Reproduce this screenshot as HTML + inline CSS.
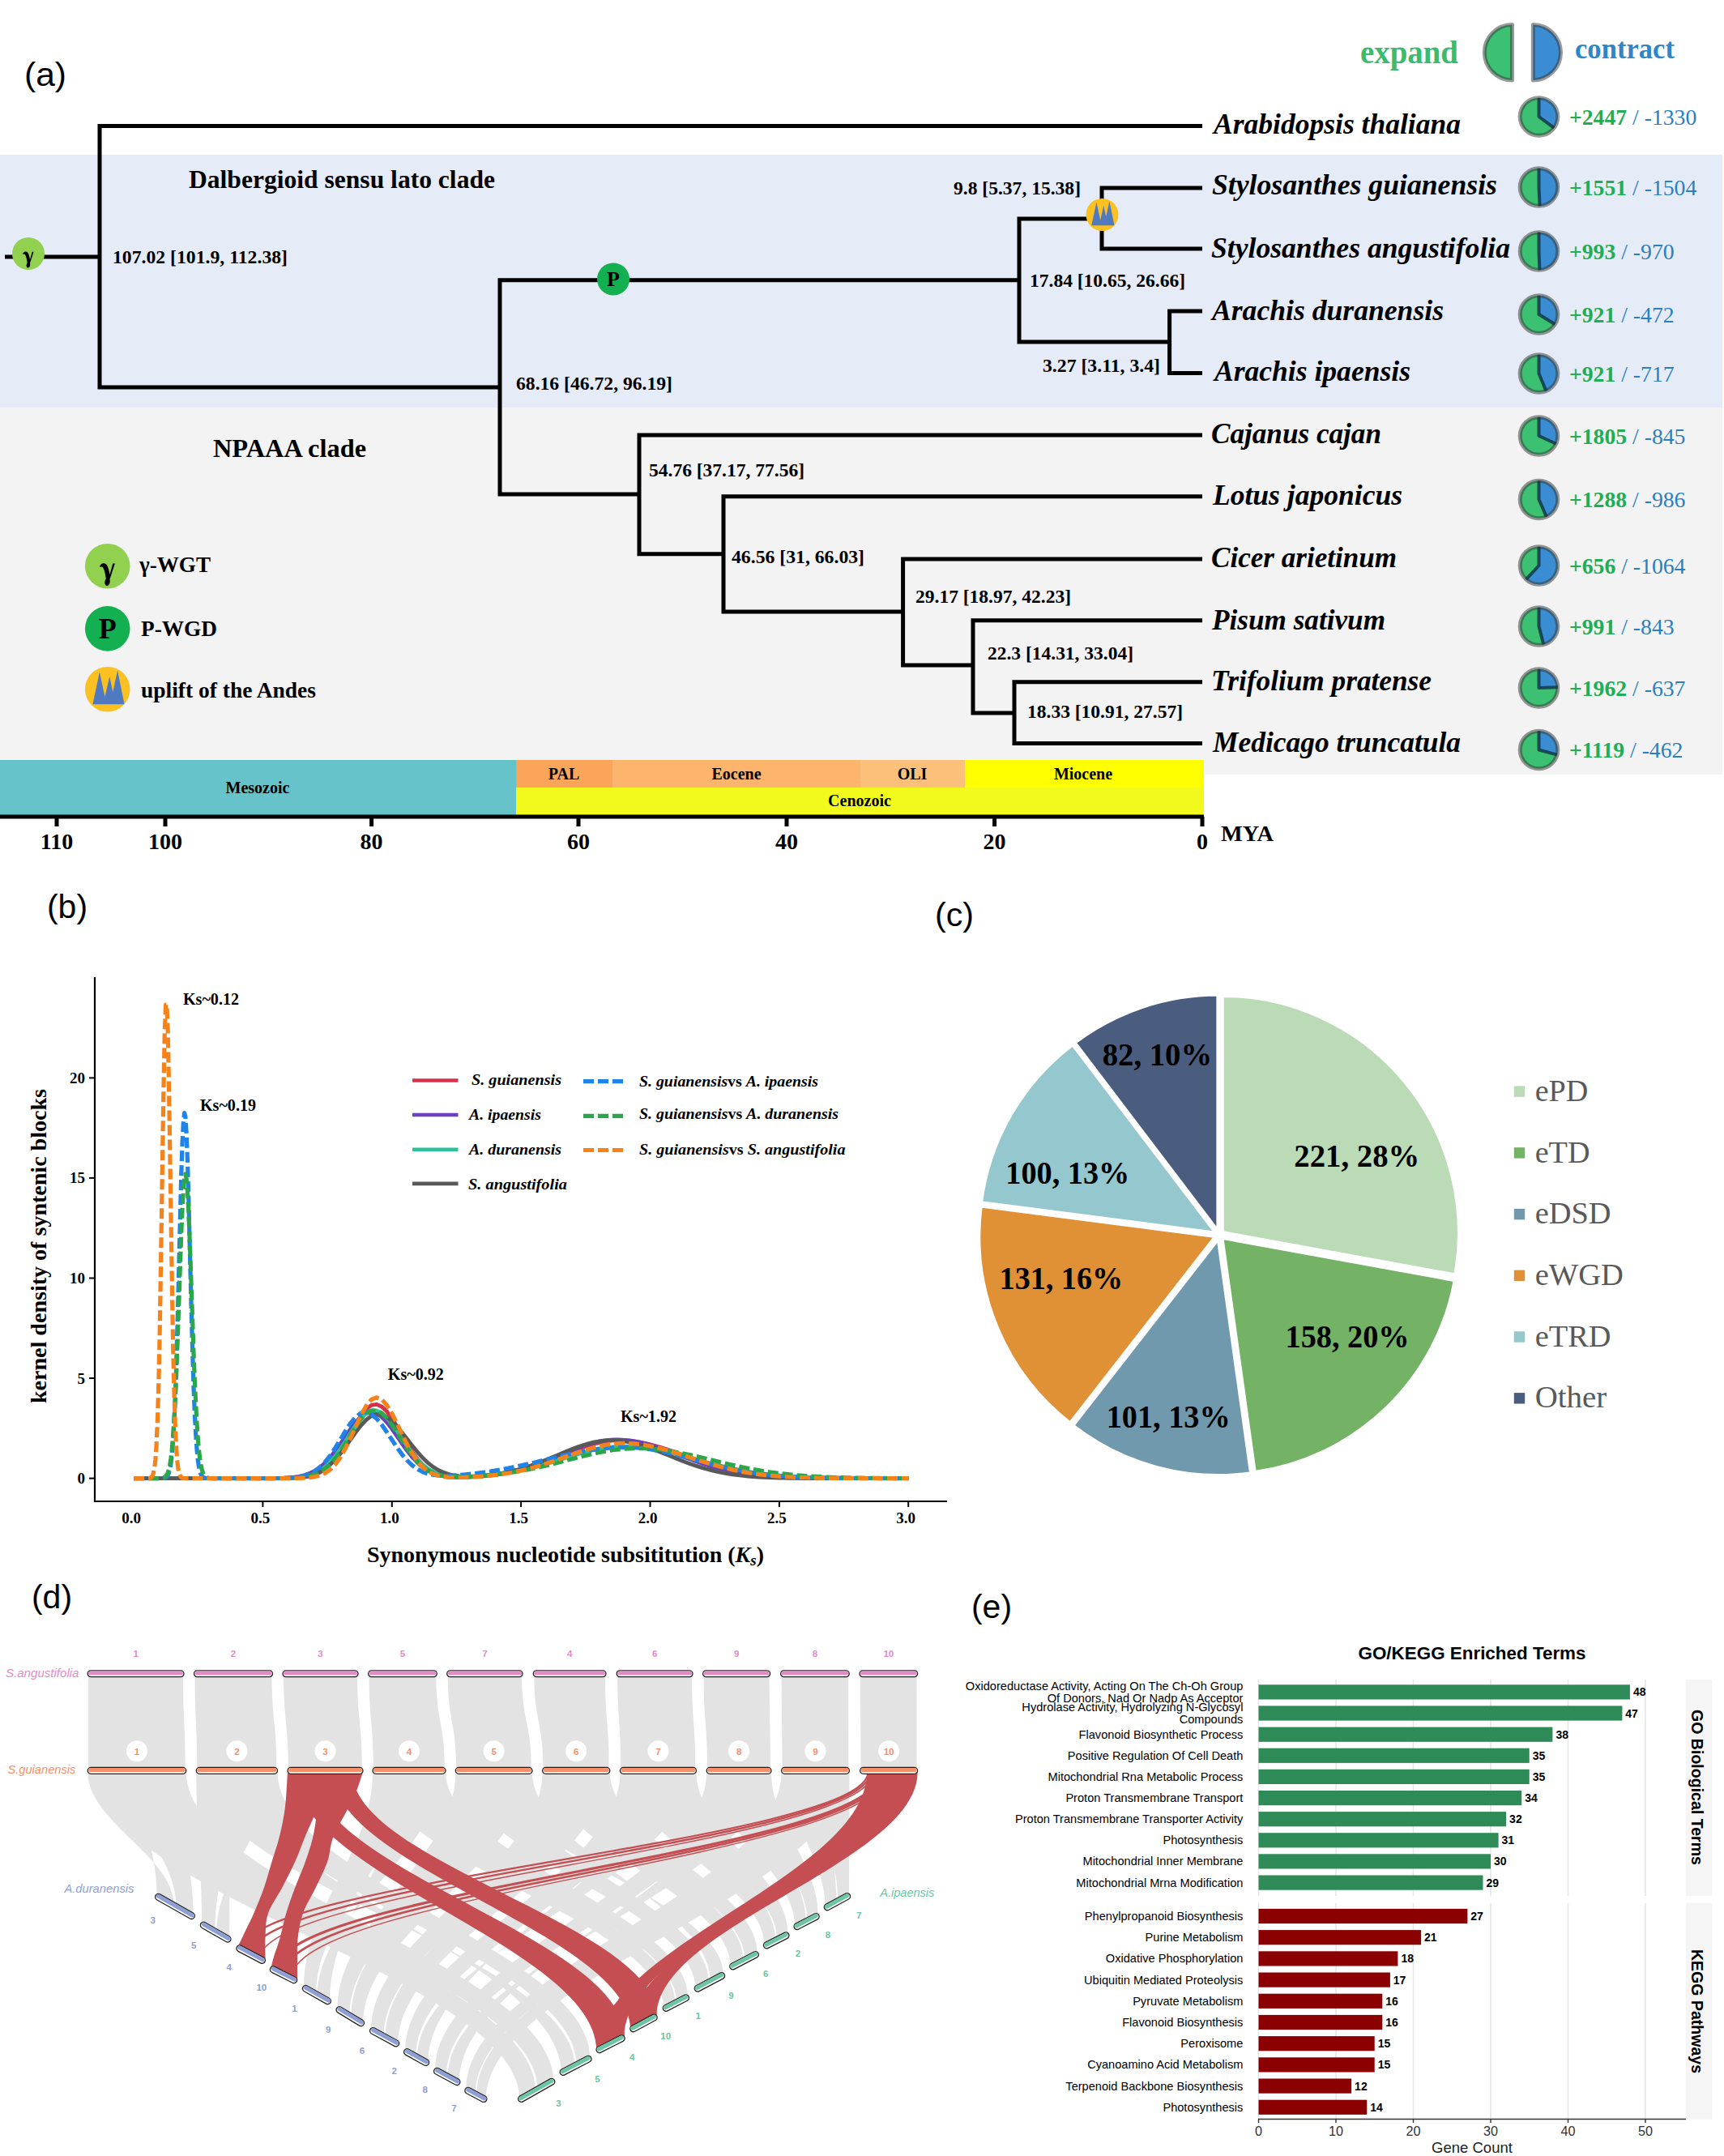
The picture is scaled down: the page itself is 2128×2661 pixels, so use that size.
<!DOCTYPE html>
<html><head><meta charset="utf-8"><title>Figure</title>
<style>html,body{margin:0;padding:0;background:#fff;}svg{display:block;}</style></head>
<body><svg width="2128" height="2661" viewBox="0 0 2128 2661">
<rect width="2128" height="2661" fill="#ffffff"/>
<rect x="0" y="191" width="2126" height="313" fill="#e6ecf7"/>
<rect x="0" y="503" width="2126" height="453" fill="#f3f3f3"/>
<rect x="0" y="938" width="1486" height="70" fill="#ffffff"/>
<text x="30" y="106" font-family="Liberation Sans" font-size="41" fill="#000" textLength="52" lengthAdjust="spacingAndGlyphs">(a)</text>
<path d="M6 317H123M123 153.0V480.5M123 155.5H1484M123 478H617M617 343.2V612.5M617 345.7H1258M617 610H789M1258 267.5V424.5M1258 270H1360M1258 422H1443.6M1360 229.5V309.5M1360 232H1484M1360 307H1484M1443.6 381.5V463.0M1443.6 384H1484M1443.6 460.5H1484M789 534.5V686.2M789 537H1484M789 683.7H893M893 610.2V757.5M893 612.7H1484M893 755H1114.6M1114.6 687.5V823.5M1114.6 690H1484M1114.6 821H1201M1201 763.3V882.5M1201 765.8H1484M1201 880H1252M1252 839.2V920.1M1252 841.7H1484M1252 917.6H1484" stroke="#000" stroke-width="5" fill="none"/>
<text x="139" y="325" font-family="Liberation Serif" font-weight="bold" font-size="23" text-anchor="start" textLength="216" lengthAdjust="spacingAndGlyphs">107.02 [101.9, 112.38]</text>
<text x="637" y="481" font-family="Liberation Serif" font-weight="bold" font-size="23" text-anchor="start" textLength="193" lengthAdjust="spacingAndGlyphs">68.16 [46.72, 96.19]</text>
<text x="1177" y="240" font-family="Liberation Serif" font-weight="bold" font-size="23" text-anchor="start" textLength="157" lengthAdjust="spacingAndGlyphs">9.8 [5.37, 15.38]</text>
<text x="1271" y="354" font-family="Liberation Serif" font-weight="bold" font-size="23" text-anchor="start" textLength="192" lengthAdjust="spacingAndGlyphs">17.84 [10.65, 26.66]</text>
<text x="1287" y="459" font-family="Liberation Serif" font-weight="bold" font-size="23" text-anchor="start" textLength="145" lengthAdjust="spacingAndGlyphs">3.27 [3.11, 3.4]</text>
<text x="801" y="588" font-family="Liberation Serif" font-weight="bold" font-size="23" text-anchor="start" textLength="192" lengthAdjust="spacingAndGlyphs">54.76 [37.17, 77.56]</text>
<text x="903" y="695" font-family="Liberation Serif" font-weight="bold" font-size="23" text-anchor="start" textLength="164" lengthAdjust="spacingAndGlyphs">46.56 [31, 66.03]</text>
<text x="1130" y="744" font-family="Liberation Serif" font-weight="bold" font-size="23" text-anchor="start" textLength="192" lengthAdjust="spacingAndGlyphs">29.17 [18.97, 42.23]</text>
<text x="1219" y="814" font-family="Liberation Serif" font-weight="bold" font-size="23" text-anchor="start" textLength="180" lengthAdjust="spacingAndGlyphs">22.3 [14.31, 33.04]</text>
<text x="1268" y="886" font-family="Liberation Serif" font-weight="bold" font-size="23" text-anchor="start" textLength="192" lengthAdjust="spacingAndGlyphs">18.33 [10.91, 27.57]</text>
<text x="233" y="232" font-family="Liberation Serif" font-weight="bold" font-size="31" textLength="378" lengthAdjust="spacingAndGlyphs">Dalbergioid sensu lato clade</text>
<text x="263" y="564" font-family="Liberation Serif" font-weight="bold" font-size="31" textLength="189" lengthAdjust="spacingAndGlyphs">NPAAA clade</text>
<circle cx="35" cy="313" r="20" fill="#92d050"/>
<path d="M283,432C290,395 330,375 358,405C375,425 385,470 392,510L425,392L447,392L392,560C398,590 392,625 362,630C335,628 332,585 352,555C345,500 330,435 312,428C300,424 292,430 283,432Z" transform="translate(35,313) scale(0.0833) translate(-368,-420)" fill="#000"/>
<circle cx="757" cy="344.5" r="20" fill="#12b050"/>
<text x="757" y="353.47" font-family="Liberation Serif" font-weight="bold" font-size="26" text-anchor="middle">P</text>
<circle cx="1360.5" cy="265" r="20" fill="#fbc021"/>
<polygon points="1347.3,278.3 1353.4,249.6 1358.2,271.7 1362.3,253.8 1365.2,267.5 1369.4,248.3 1375.5,278.3" fill="#4f7ac0"/>
<circle cx="132.7" cy="698.7" r="27.8" fill="#92d050"/>
<path d="M283,432C290,395 330,375 358,405C375,425 385,470 392,510L425,392L447,392L392,560C398,590 392,625 362,630C335,628 332,585 352,555C345,500 330,435 312,428C300,424 292,430 283,432Z" transform="translate(132.7,698.7) scale(0.1158) translate(-368,-420)" fill="#000"/>
<circle cx="132.7" cy="775.9" r="27.8" fill="#12b050"/>
<text x="132.7" y="788.3199999999999" font-family="Liberation Serif" font-weight="bold" font-size="36" text-anchor="middle">P</text>
<circle cx="132.7" cy="850.7" r="27.8" fill="#fbc021"/>
<polygon points="114.4,869.2 122.9,829.3 129.4,860.0 135.3,835.1 139.3,854.2 145.1,827.5 153.5,869.2" fill="#4f7ac0"/>
<text x="172" y="706" font-family="Liberation Serif" font-weight="bold" font-size="27" textLength="88" lengthAdjust="spacingAndGlyphs">γ-WGT</text>
<text x="174" y="785" font-family="Liberation Serif" font-weight="bold" font-size="27" textLength="94" lengthAdjust="spacingAndGlyphs">P-WGD</text>
<text x="174" y="861" font-family="Liberation Serif" font-weight="bold" font-size="27" textLength="216" lengthAdjust="spacingAndGlyphs">uplift of the Andes</text>
<text x="1498" y="164.6" font-family="Liberation Serif" font-weight="bold" font-style="italic" font-size="36" textLength="305" lengthAdjust="spacingAndGlyphs">Arabidopsis thaliana</text>
<text x="1496" y="240" font-family="Liberation Serif" font-weight="bold" font-style="italic" font-size="36" textLength="352" lengthAdjust="spacingAndGlyphs">Stylosanthes guianensis</text>
<text x="1495" y="318" font-family="Liberation Serif" font-weight="bold" font-style="italic" font-size="36" textLength="369" lengthAdjust="spacingAndGlyphs">Stylosanthes angustifolia</text>
<text x="1496" y="395" font-family="Liberation Serif" font-weight="bold" font-style="italic" font-size="36" textLength="286" lengthAdjust="spacingAndGlyphs">Arachis duranensis</text>
<text x="1499" y="470" font-family="Liberation Serif" font-weight="bold" font-style="italic" font-size="36" textLength="242" lengthAdjust="spacingAndGlyphs">Arachis ipaensis</text>
<text x="1495" y="547" font-family="Liberation Serif" font-weight="bold" font-style="italic" font-size="36" textLength="210" lengthAdjust="spacingAndGlyphs">Cajanus cajan</text>
<text x="1497" y="623" font-family="Liberation Serif" font-weight="bold" font-style="italic" font-size="36" textLength="234" lengthAdjust="spacingAndGlyphs">Lotus japonicus</text>
<text x="1495" y="700" font-family="Liberation Serif" font-weight="bold" font-style="italic" font-size="36" textLength="229" lengthAdjust="spacingAndGlyphs">Cicer arietinum</text>
<text x="1496" y="777" font-family="Liberation Serif" font-weight="bold" font-style="italic" font-size="36" textLength="214" lengthAdjust="spacingAndGlyphs">Pisum sativum</text>
<text x="1495" y="852" font-family="Liberation Serif" font-weight="bold" font-style="italic" font-size="36" textLength="272" lengthAdjust="spacingAndGlyphs">Trifolium pratense</text>
<text x="1497" y="928" font-family="Liberation Serif" font-weight="bold" font-style="italic" font-size="36" textLength="306" lengthAdjust="spacingAndGlyphs">Medicago truncatula</text>
<circle cx="1899.5" cy="144" r="23.3" fill="#3cc172"/>
<path d="M1899.5 144L1899.5 120.7A23.3 23.3 0 0 1 1918.2 157.9Z" fill="#3a8dd3"/>
<path d="M1899.5 120.7L1899.5 144L1918.2 157.9" fill="none" stroke="#0d2b3a" stroke-opacity="0.75" stroke-width="4" stroke-linejoin="round"/>
<circle cx="1899.5" cy="144" r="23.3" fill="none" stroke="#333" stroke-opacity="0.5" stroke-width="5"/>
<text x="1937" y="153.5" font-family="Liberation Serif" font-size="27.7"><tspan font-weight="bold" fill="#1fae55">+2447</tspan><tspan fill="#2a7fc0"> / -1330</tspan></text>
<circle cx="1899.5" cy="231" r="23.3" fill="#3cc172"/>
<path d="M1899.5 231L1899.5 207.7A23.3 23.3 0 0 1 1900.6 254.3Z" fill="#3a8dd3"/>
<path d="M1899.5 207.7L1899.5 231L1900.6 254.3" fill="none" stroke="#0d2b3a" stroke-opacity="0.75" stroke-width="4" stroke-linejoin="round"/>
<circle cx="1899.5" cy="231" r="23.3" fill="none" stroke="#333" stroke-opacity="0.5" stroke-width="5"/>
<text x="1937" y="240.5" font-family="Liberation Serif" font-size="27.7"><tspan font-weight="bold" fill="#1fae55">+1551</tspan><tspan fill="#2a7fc0"> / -1504</tspan></text>
<circle cx="1899.5" cy="310" r="23.3" fill="#3cc172"/>
<path d="M1899.5 310L1899.5 286.7A23.3 23.3 0 0 1 1900.4 333.3Z" fill="#3a8dd3"/>
<path d="M1899.5 286.7L1899.5 310L1900.4 333.3" fill="none" stroke="#0d2b3a" stroke-opacity="0.75" stroke-width="4" stroke-linejoin="round"/>
<circle cx="1899.5" cy="310" r="23.3" fill="none" stroke="#333" stroke-opacity="0.5" stroke-width="5"/>
<text x="1937" y="319.5" font-family="Liberation Serif" font-size="27.7"><tspan font-weight="bold" fill="#1fae55">+993</tspan><tspan fill="#2a7fc0"> / -970</tspan></text>
<circle cx="1899.5" cy="388" r="23.3" fill="#3cc172"/>
<path d="M1899.5 388L1899.5 364.7A23.3 23.3 0 0 1 1919.3 400.3Z" fill="#3a8dd3"/>
<path d="M1899.5 364.7L1899.5 388L1919.3 400.3" fill="none" stroke="#0d2b3a" stroke-opacity="0.75" stroke-width="4" stroke-linejoin="round"/>
<circle cx="1899.5" cy="388" r="23.3" fill="none" stroke="#333" stroke-opacity="0.5" stroke-width="5"/>
<text x="1937" y="397.5" font-family="Liberation Serif" font-size="27.7"><tspan font-weight="bold" fill="#1fae55">+921</tspan><tspan fill="#2a7fc0"> / -472</tspan></text>
<circle cx="1899.5" cy="461" r="23.3" fill="#3cc172"/>
<path d="M1899.5 461L1899.5 437.7A23.3 23.3 0 0 1 1908.4 482.5Z" fill="#3a8dd3"/>
<path d="M1899.5 437.7L1899.5 461L1908.4 482.5" fill="none" stroke="#0d2b3a" stroke-opacity="0.75" stroke-width="4" stroke-linejoin="round"/>
<circle cx="1899.5" cy="461" r="23.3" fill="none" stroke="#333" stroke-opacity="0.5" stroke-width="5"/>
<text x="1937" y="470.5" font-family="Liberation Serif" font-size="27.7"><tspan font-weight="bold" fill="#1fae55">+921</tspan><tspan fill="#2a7fc0"> / -717</tspan></text>
<circle cx="1899.5" cy="538" r="23.3" fill="#3cc172"/>
<path d="M1899.5 538L1899.5 514.7A23.3 23.3 0 0 1 1920.7 547.8Z" fill="#3a8dd3"/>
<path d="M1899.5 514.7L1899.5 538L1920.7 547.8" fill="none" stroke="#0d2b3a" stroke-opacity="0.75" stroke-width="4" stroke-linejoin="round"/>
<circle cx="1899.5" cy="538" r="23.3" fill="none" stroke="#333" stroke-opacity="0.5" stroke-width="5"/>
<text x="1937" y="547.5" font-family="Liberation Serif" font-size="27.7"><tspan font-weight="bold" fill="#1fae55">+1805</tspan><tspan fill="#2a7fc0"> / -845</tspan></text>
<circle cx="1899.5" cy="616.5" r="23.3" fill="#3cc172"/>
<path d="M1899.5 616.5L1899.5 593.2A23.3 23.3 0 0 1 1908.9 637.8Z" fill="#3a8dd3"/>
<path d="M1899.5 593.2L1899.5 616.5L1908.9 637.8" fill="none" stroke="#0d2b3a" stroke-opacity="0.75" stroke-width="4" stroke-linejoin="round"/>
<circle cx="1899.5" cy="616.5" r="23.3" fill="none" stroke="#333" stroke-opacity="0.5" stroke-width="5"/>
<text x="1937" y="626.0" font-family="Liberation Serif" font-size="27.7"><tspan font-weight="bold" fill="#1fae55">+1288</tspan><tspan fill="#2a7fc0"> / -986</tspan></text>
<circle cx="1899.5" cy="698" r="23.3" fill="#3cc172"/>
<path d="M1899.5 698L1899.5 674.7A23.3 23.3 0 1 1 1883.7 715.1Z" fill="#3a8dd3"/>
<path d="M1899.5 674.7L1899.5 698L1883.7 715.1" fill="none" stroke="#0d2b3a" stroke-opacity="0.75" stroke-width="4" stroke-linejoin="round"/>
<circle cx="1899.5" cy="698" r="23.3" fill="none" stroke="#333" stroke-opacity="0.5" stroke-width="5"/>
<text x="1937" y="707.5" font-family="Liberation Serif" font-size="27.7"><tspan font-weight="bold" fill="#1fae55">+656</tspan><tspan fill="#2a7fc0"> / -1064</tspan></text>
<circle cx="1899.5" cy="773" r="23.3" fill="#3cc172"/>
<path d="M1899.5 773L1899.5 749.7A23.3 23.3 0 0 1 1905.3 795.6Z" fill="#3a8dd3"/>
<path d="M1899.5 749.7L1899.5 773L1905.3 795.6" fill="none" stroke="#0d2b3a" stroke-opacity="0.75" stroke-width="4" stroke-linejoin="round"/>
<circle cx="1899.5" cy="773" r="23.3" fill="none" stroke="#333" stroke-opacity="0.5" stroke-width="5"/>
<text x="1937" y="782.5" font-family="Liberation Serif" font-size="27.7"><tspan font-weight="bold" fill="#1fae55">+991</tspan><tspan fill="#2a7fc0"> / -843</tspan></text>
<circle cx="1899.5" cy="849" r="23.3" fill="#3cc172"/>
<path d="M1899.5 849L1899.5 825.7A23.3 23.3 0 0 1 1922.8 848.3Z" fill="#3a8dd3"/>
<path d="M1899.5 825.7L1899.5 849L1922.8 848.3" fill="none" stroke="#0d2b3a" stroke-opacity="0.75" stroke-width="4" stroke-linejoin="round"/>
<circle cx="1899.5" cy="849" r="23.3" fill="none" stroke="#333" stroke-opacity="0.5" stroke-width="5"/>
<text x="1937" y="858.5" font-family="Liberation Serif" font-size="27.7"><tspan font-weight="bold" fill="#1fae55">+1962</tspan><tspan fill="#2a7fc0"> / -637</tspan></text>
<circle cx="1899.5" cy="925.5" r="23.3" fill="#3cc172"/>
<path d="M1899.5 925.5L1899.5 902.2A23.3 23.3 0 0 1 1922.0 931.6Z" fill="#3a8dd3"/>
<path d="M1899.5 902.2L1899.5 925.5L1922.0 931.6" fill="none" stroke="#0d2b3a" stroke-opacity="0.75" stroke-width="4" stroke-linejoin="round"/>
<circle cx="1899.5" cy="925.5" r="23.3" fill="none" stroke="#333" stroke-opacity="0.5" stroke-width="5"/>
<text x="1937" y="935.0" font-family="Liberation Serif" font-size="27.7"><tspan font-weight="bold" fill="#1fae55">+1119</tspan><tspan fill="#2a7fc0"> / -462</tspan></text>
<path d="M1866.5 30.5A34.2 34.2 0 0 0 1866.5 98.9Z" fill="#3cc172" stroke="#333" stroke-opacity="0.5" stroke-width="5" stroke-linejoin="round"/>
<path d="M1892.3 30.5A34.2 34.2 0 0 1 1892.3 98.9Z" fill="#3a8dd3" stroke="#333" stroke-opacity="0.5" stroke-width="5" stroke-linejoin="round"/>
<text x="1679" y="78" font-family="Liberation Serif" font-weight="bold" font-size="39" fill="#3cba6f" textLength="121" lengthAdjust="spacingAndGlyphs">expand</text>
<text x="1944" y="72" font-family="Liberation Serif" font-weight="bold" font-size="36" fill="#2e86c8" textLength="123" lengthAdjust="spacingAndGlyphs">contract</text>
<rect x="0" y="938" width="637" height="70" fill="#66c3c9"/>
<rect x="637" y="938" width="119" height="35" fill="#fba55a"/>
<rect x="756" y="938" width="306" height="35" fill="#fdb46c"/>
<rect x="1062" y="938" width="129" height="35" fill="#fdc07a"/>
<rect x="1191" y="938" width="295" height="35" fill="#ffff00"/>
<rect x="637" y="972" width="849" height="36" fill="#f2f91d"/>
<text x="318" y="979" font-family="Liberation Serif" font-weight="bold" font-size="20" text-anchor="middle">Mesozoic</text>
<text x="696" y="962" font-family="Liberation Serif" font-weight="bold" font-size="20" text-anchor="middle">PAL</text>
<text x="909" y="962" font-family="Liberation Serif" font-weight="bold" font-size="20" text-anchor="middle">Eocene</text>
<text x="1126" y="962" font-family="Liberation Serif" font-weight="bold" font-size="20" text-anchor="middle">OLI</text>
<text x="1337" y="962" font-family="Liberation Serif" font-weight="bold" font-size="20" text-anchor="middle">Miocene</text>
<text x="1061" y="995" font-family="Liberation Serif" font-weight="bold" font-size="20" text-anchor="middle">Cenozoic</text>
<path d="M0 1008H1486" stroke="#000" stroke-width="5"/>
<path d="M70 1008V1020" stroke="#000" stroke-width="5"/>
<text x="70" y="1048" font-family="Liberation Serif" font-weight="bold" font-size="28" text-anchor="middle">110</text>
<path d="M204 1008V1020" stroke="#000" stroke-width="5"/>
<text x="204" y="1048" font-family="Liberation Serif" font-weight="bold" font-size="28" text-anchor="middle">100</text>
<path d="M458.6 1008V1020" stroke="#000" stroke-width="5"/>
<text x="458.6" y="1048" font-family="Liberation Serif" font-weight="bold" font-size="28" text-anchor="middle">80</text>
<path d="M714 1008V1020" stroke="#000" stroke-width="5"/>
<text x="714" y="1048" font-family="Liberation Serif" font-weight="bold" font-size="28" text-anchor="middle">60</text>
<path d="M971 1008V1020" stroke="#000" stroke-width="5"/>
<text x="971" y="1048" font-family="Liberation Serif" font-weight="bold" font-size="28" text-anchor="middle">40</text>
<path d="M1227.6 1008V1020" stroke="#000" stroke-width="5"/>
<text x="1227.6" y="1048" font-family="Liberation Serif" font-weight="bold" font-size="28" text-anchor="middle">20</text>
<path d="M1484 1008V1020" stroke="#000" stroke-width="5"/>
<text x="1484" y="1048" font-family="Liberation Serif" font-weight="bold" font-size="28" text-anchor="middle">0</text>
<text x="1507" y="1038" font-family="Liberation Serif" font-weight="bold" font-size="28" textLength="65" lengthAdjust="spacingAndGlyphs">MYA</text>
<text x="58" y="1133" font-family="Liberation Sans" font-size="41" fill="#000" textLength="50" lengthAdjust="spacingAndGlyphs">(b)</text>
<path d="M165.1 1824.6L166.4 1824.6L167.6 1824.6L168.9 1824.6L170.2 1824.6L171.5 1824.6L172.7 1824.6L174.0 1824.6L175.3 1824.6L176.6 1824.6L177.8 1824.6L179.1 1824.6L180.4 1824.6L181.7 1824.6L182.9 1824.6L184.2 1824.6L185.5 1824.6L186.8 1824.6L188.0 1824.6L189.3 1824.6L190.6 1824.6L191.9 1824.6L193.1 1824.6L194.4 1824.6L195.7 1824.6L197.0 1824.6L198.2 1824.6L199.5 1824.6L200.8 1824.6L202.1 1824.6L203.3 1824.6L204.6 1824.6L205.9 1824.6L207.2 1824.6L208.4 1824.6L209.7 1824.6L211.0 1824.6L212.3 1824.6L213.5 1824.6L214.8 1824.6L216.1 1824.6L217.4 1824.6L218.6 1824.6L219.9 1824.6L221.2 1824.6L222.5 1824.6L223.7 1824.6L225.0 1824.6L226.3 1824.6L227.6 1824.6L228.8 1824.6L230.1 1824.6L231.4 1824.6L232.7 1824.6L233.9 1824.6L235.2 1824.6L236.5 1824.6L237.8 1824.6L239.0 1824.6L240.3 1824.6L241.6 1824.6L242.9 1824.6L244.1 1824.6L245.4 1824.6L246.7 1824.6L248.0 1824.6L249.2 1824.6L250.5 1824.6L251.8 1824.6L253.1 1824.6L254.3 1824.6L255.6 1824.6L256.9 1824.6L258.2 1824.6L259.4 1824.6L260.7 1824.6L262.0 1824.6L263.3 1824.6L264.5 1824.6L265.8 1824.6L267.1 1824.6L273.5 1824.6L279.8 1824.6L286.2 1824.6L292.6 1824.6L299.0 1824.6L305.3 1824.6L311.7 1824.6L318.1 1824.6L324.5 1824.6L330.8 1824.6L337.2 1824.6L343.6 1824.6L349.9 1824.5L356.3 1824.4L362.7 1824.2L369.1 1823.9L375.4 1823.2L381.8 1822.1L388.2 1820.3L394.6 1817.5L400.9 1813.5L407.3 1807.8L413.7 1800.4L420.1 1791.3L426.4 1780.7L432.8 1769.1L439.2 1757.7L445.6 1747.3L451.9 1739.2L458.3 1734.3L464.7 1733.3L471.1 1736.0L477.4 1742.0L483.8 1750.6L490.2 1760.9L496.5 1771.9L502.9 1782.7L509.3 1792.6L515.7 1801.1L522.0 1808.0L528.4 1813.3L534.8 1817.1L541.2 1819.8L547.5 1821.5L553.9 1822.5L560.3 1823.0L566.7 1823.2L573.0 1823.2L579.4 1823.0L585.8 1822.7L592.2 1822.3L598.5 1821.7L604.9 1821.0L611.3 1820.3L617.7 1819.3L624.0 1818.2L630.4 1817.0L636.8 1815.6L643.2 1814.0L649.5 1812.3L655.9 1810.4L662.3 1808.3L668.6 1806.1L675.0 1803.7L681.4 1801.2L687.8 1798.7L694.1 1796.1L700.5 1793.5L706.9 1791.0L713.3 1788.6L719.6 1786.3L726.0 1784.1L732.4 1782.3L738.8 1780.7L745.1 1779.4L751.5 1778.4L757.9 1777.8L764.3 1777.7L770.6 1777.8L777.0 1778.2L783.4 1779.0L789.8 1780.0L796.1 1781.3L802.5 1782.8L808.9 1784.5L815.2 1786.3L821.6 1788.4L828.0 1790.5L834.4 1792.7L840.7 1795.0L847.1 1797.3L853.5 1799.5L859.9 1801.7L866.2 1803.9L872.6 1806.0L879.0 1808.0L885.4 1809.8L891.7 1811.5L898.1 1813.2L904.5 1814.6L910.9 1816.0L917.2 1817.2L923.6 1818.2L930.0 1819.2L936.4 1820.0L942.7 1820.8L949.1 1821.4L955.5 1822.0L961.9 1822.4L968.2 1822.8L974.6 1823.2L981.0 1823.4L987.3 1823.7L993.7 1823.9L1000.1 1824.0L1006.5 1824.1L1012.8 1824.2L1019.2 1824.3L1025.6 1824.4L1032.0 1824.4L1038.3 1824.5L1044.7 1824.5L1051.1 1824.5L1057.5 1824.5L1063.8 1824.6L1070.2 1824.6L1076.6 1824.6L1083.0 1824.6L1089.3 1824.6L1095.7 1824.6L1102.1 1824.6L1108.5 1824.6L1114.8 1824.6L1121.2 1824.6" fill="none" stroke="#d7304a" stroke-width="4.8" stroke-linejoin="round"/>
<path d="M165.1 1824.6L166.4 1824.6L167.6 1824.6L168.9 1824.6L170.2 1824.6L171.5 1824.6L172.7 1824.6L174.0 1824.6L175.3 1824.6L176.6 1824.6L177.8 1824.6L179.1 1824.6L180.4 1824.6L181.7 1824.6L182.9 1824.6L184.2 1824.6L185.5 1824.6L186.8 1824.6L188.0 1824.6L189.3 1824.6L190.6 1824.6L191.9 1824.6L193.1 1824.6L194.4 1824.6L195.7 1824.6L197.0 1824.6L198.2 1824.6L199.5 1824.6L200.8 1824.6L202.1 1824.6L203.3 1824.6L204.6 1824.6L205.9 1824.6L207.2 1824.6L208.4 1824.6L209.7 1824.6L211.0 1824.6L212.3 1824.6L213.5 1824.6L214.8 1824.6L216.1 1824.6L217.4 1824.6L218.6 1824.6L219.9 1824.6L221.2 1824.6L222.5 1824.6L223.7 1824.6L225.0 1824.6L226.3 1824.6L227.6 1824.6L228.8 1824.6L230.1 1824.6L231.4 1824.6L232.7 1824.6L233.9 1824.6L235.2 1824.6L236.5 1824.6L237.8 1824.6L239.0 1824.6L240.3 1824.6L241.6 1824.6L242.9 1824.6L244.1 1824.6L245.4 1824.6L246.7 1824.6L248.0 1824.6L249.2 1824.6L250.5 1824.6L251.8 1824.6L253.1 1824.6L254.3 1824.6L255.6 1824.6L256.9 1824.6L258.2 1824.6L259.4 1824.6L260.7 1824.6L262.0 1824.6L263.3 1824.6L264.5 1824.6L265.8 1824.6L267.1 1824.6L273.5 1824.6L279.8 1824.6L286.2 1824.6L292.6 1824.6L299.0 1824.6L305.3 1824.6L311.7 1824.6L318.1 1824.6L324.5 1824.6L330.8 1824.5L337.2 1824.5L343.6 1824.4L349.9 1824.2L356.3 1823.8L362.7 1823.2L369.1 1822.3L375.4 1820.8L381.8 1818.6L388.2 1815.5L394.6 1811.3L400.9 1805.8L407.3 1799.1L413.7 1791.1L420.1 1782.2L426.4 1772.8L432.8 1763.6L439.2 1755.3L445.6 1748.8L451.9 1744.5L458.3 1743.1L464.7 1744.5L471.1 1748.8L477.4 1755.3L483.8 1763.6L490.2 1772.8L496.5 1782.1L502.9 1791.0L509.3 1799.0L515.7 1805.7L522.0 1811.2L528.4 1815.3L534.8 1818.4L541.2 1820.4L547.5 1821.8L553.9 1822.6L560.3 1823.0L566.7 1823.1L573.0 1823.1L579.4 1822.8L585.8 1822.4L592.2 1822.0L598.5 1821.3L604.9 1820.6L611.3 1819.7L617.7 1818.7L624.0 1817.5L630.4 1816.2L636.8 1814.7L643.2 1813.0L649.5 1811.1L655.9 1809.1L662.3 1806.9L668.6 1804.6L675.0 1802.1L681.4 1799.6L687.8 1797.0L694.1 1794.4L700.5 1791.8L706.9 1789.2L713.3 1786.8L719.6 1784.5L726.0 1782.5L732.4 1780.7L738.8 1779.3L745.1 1778.1L751.5 1777.4L757.9 1777.0L764.3 1777.0L770.6 1777.3L777.0 1777.9L783.4 1778.9L789.8 1780.1L796.1 1781.7L802.5 1783.4L808.9 1785.4L815.2 1787.5L821.6 1789.7L828.0 1792.1L834.4 1794.5L840.7 1796.9L847.1 1799.3L853.5 1801.6L859.9 1803.9L866.2 1806.1L872.6 1808.1L879.0 1810.1L885.4 1811.9L891.7 1813.5L898.1 1815.0L904.5 1816.4L910.9 1817.6L917.2 1818.7L923.6 1819.6L930.0 1820.4L936.4 1821.1L942.7 1821.8L949.1 1822.3L955.5 1822.7L961.9 1823.1L968.2 1823.4L974.6 1823.6L981.0 1823.8L987.3 1824.0L993.7 1824.1L1000.1 1824.2L1006.5 1824.3L1012.8 1824.4L1019.2 1824.4L1025.6 1824.5L1032.0 1824.5L1038.3 1824.5L1044.7 1824.6L1051.1 1824.6L1057.5 1824.6L1063.8 1824.6L1070.2 1824.6L1076.6 1824.6L1083.0 1824.6L1089.3 1824.6L1095.7 1824.6L1102.1 1824.6L1108.5 1824.6L1114.8 1824.6L1121.2 1824.6" fill="none" stroke="#6a3fc0" stroke-width="4.8" stroke-linejoin="round"/>
<path d="M165.1 1824.6L166.4 1824.6L167.6 1824.6L168.9 1824.6L170.2 1824.6L171.5 1824.6L172.7 1824.6L174.0 1824.6L175.3 1824.6L176.6 1824.6L177.8 1824.6L179.1 1824.6L180.4 1824.6L181.7 1824.6L182.9 1824.6L184.2 1824.6L185.5 1824.6L186.8 1824.6L188.0 1824.6L189.3 1824.6L190.6 1824.6L191.9 1824.6L193.1 1824.6L194.4 1824.6L195.7 1824.6L197.0 1824.6L198.2 1824.6L199.5 1824.6L200.8 1824.6L202.1 1824.6L203.3 1824.6L204.6 1824.6L205.9 1824.6L207.2 1824.6L208.4 1824.6L209.7 1824.6L211.0 1824.6L212.3 1824.6L213.5 1824.6L214.8 1824.6L216.1 1824.6L217.4 1824.6L218.6 1824.6L219.9 1824.6L221.2 1824.6L222.5 1824.6L223.7 1824.6L225.0 1824.6L226.3 1824.6L227.6 1824.6L228.8 1824.6L230.1 1824.6L231.4 1824.6L232.7 1824.6L233.9 1824.6L235.2 1824.6L236.5 1824.6L237.8 1824.6L239.0 1824.6L240.3 1824.6L241.6 1824.6L242.9 1824.6L244.1 1824.6L245.4 1824.6L246.7 1824.6L248.0 1824.6L249.2 1824.6L250.5 1824.6L251.8 1824.6L253.1 1824.6L254.3 1824.6L255.6 1824.6L256.9 1824.6L258.2 1824.6L259.4 1824.6L260.7 1824.6L262.0 1824.6L263.3 1824.6L264.5 1824.6L265.8 1824.6L267.1 1824.6L273.5 1824.6L279.8 1824.6L286.2 1824.6L292.6 1824.6L299.0 1824.6L305.3 1824.6L311.7 1824.6L318.1 1824.6L324.5 1824.6L330.8 1824.6L337.2 1824.6L343.6 1824.5L349.9 1824.4L356.3 1824.2L362.7 1823.9L369.1 1823.3L375.4 1822.4L381.8 1820.9L388.2 1818.6L394.6 1815.3L400.9 1810.8L407.3 1804.8L413.7 1797.3L420.1 1788.5L426.4 1778.7L432.8 1768.6L439.2 1758.8L445.6 1750.5L451.9 1744.3L458.3 1741.0L464.7 1741.0L471.1 1743.9L477.4 1749.6L483.8 1757.3L490.2 1766.4L496.5 1776.0L502.9 1785.5L509.3 1794.2L515.7 1801.8L522.0 1808.1L528.4 1813.0L534.8 1816.6L541.2 1819.2L547.5 1821.0L553.9 1822.0L560.3 1822.6L566.7 1822.9L573.0 1822.9L579.4 1822.7L585.8 1822.4L592.2 1822.0L598.5 1821.4L604.9 1820.8L611.3 1820.1L617.7 1819.2L624.0 1818.3L630.4 1817.2L636.8 1816.0L643.2 1814.7L649.5 1813.3L655.9 1811.8L662.3 1810.1L668.6 1808.3L675.0 1806.5L681.4 1804.6L687.8 1802.6L694.1 1800.6L700.5 1798.6L706.9 1796.7L713.3 1794.8L719.6 1792.9L726.0 1791.2L732.4 1789.7L738.8 1788.4L745.1 1787.2L751.5 1786.3L757.9 1785.6L764.3 1785.2L770.6 1785.1L777.0 1785.2L783.4 1785.5L789.8 1786.0L796.1 1786.8L802.5 1787.7L808.9 1788.8L815.2 1790.0L821.6 1791.4L828.0 1792.9L834.4 1794.5L840.7 1796.2L847.1 1798.0L853.5 1799.7L859.9 1801.5L866.2 1803.3L872.6 1805.0L879.0 1806.7L885.4 1808.3L891.7 1809.9L898.1 1811.4L904.5 1812.8L910.9 1814.1L917.2 1815.3L923.6 1816.5L930.0 1817.5L936.4 1818.4L942.7 1819.2L949.1 1820.0L955.5 1820.7L961.9 1821.3L968.2 1821.8L974.6 1822.2L981.0 1822.6L987.3 1822.9L993.7 1823.2L1000.1 1823.5L1006.5 1823.7L1012.8 1823.8L1019.2 1824.0L1025.6 1824.1L1032.0 1824.2L1038.3 1824.3L1044.7 1824.4L1051.1 1824.4L1057.5 1824.4L1063.8 1824.5L1070.2 1824.5L1076.6 1824.5L1083.0 1824.5L1089.3 1824.6L1095.7 1824.6L1102.1 1824.6L1108.5 1824.6L1114.8 1824.6L1121.2 1824.6" fill="none" stroke="#2fc29a" stroke-width="4.8" stroke-linejoin="round"/>
<path d="M165.1 1824.6L166.4 1824.6L167.6 1824.6L168.9 1824.6L170.2 1824.6L171.5 1824.6L172.7 1824.6L174.0 1824.6L175.3 1824.6L176.6 1824.6L177.8 1824.6L179.1 1824.6L180.4 1824.6L181.7 1824.6L182.9 1824.6L184.2 1824.6L185.5 1824.6L186.8 1824.6L188.0 1824.6L189.3 1824.6L190.6 1824.6L191.9 1824.6L193.1 1824.6L194.4 1824.6L195.7 1824.6L197.0 1824.6L198.2 1824.6L199.5 1824.6L200.8 1824.6L202.1 1824.6L203.3 1824.6L204.6 1824.6L205.9 1824.6L207.2 1824.6L208.4 1824.6L209.7 1824.6L211.0 1824.6L212.3 1824.6L213.5 1824.6L214.8 1824.6L216.1 1824.6L217.4 1824.6L218.6 1824.6L219.9 1824.6L221.2 1824.6L222.5 1824.6L223.7 1824.6L225.0 1824.6L226.3 1824.6L227.6 1824.6L228.8 1824.6L230.1 1824.6L231.4 1824.6L232.7 1824.6L233.9 1824.6L235.2 1824.6L236.5 1824.6L237.8 1824.6L239.0 1824.6L240.3 1824.6L241.6 1824.6L242.9 1824.6L244.1 1824.6L245.4 1824.6L246.7 1824.6L248.0 1824.6L249.2 1824.6L250.5 1824.6L251.8 1824.6L253.1 1824.6L254.3 1824.6L255.6 1824.6L256.9 1824.6L258.2 1824.6L259.4 1824.6L260.7 1824.6L262.0 1824.6L263.3 1824.6L264.5 1824.6L265.8 1824.6L267.1 1824.6L273.5 1824.6L279.8 1824.6L286.2 1824.6L292.6 1824.6L299.0 1824.6L305.3 1824.6L311.7 1824.6L318.1 1824.6L324.5 1824.6L330.8 1824.6L337.2 1824.6L343.6 1824.5L349.9 1824.4L356.3 1824.2L362.7 1823.9L369.1 1823.4L375.4 1822.6L381.8 1821.3L388.2 1819.4L394.6 1816.6L400.9 1812.8L407.3 1807.9L413.7 1801.6L420.1 1794.1L426.4 1785.7L432.8 1776.6L439.2 1767.6L445.6 1759.3L451.9 1752.5L458.3 1747.7L464.7 1745.6L471.1 1746.2L477.4 1749.1L483.8 1754.1L490.2 1760.7L496.5 1768.4L502.9 1776.6L509.3 1784.8L515.7 1792.6L522.0 1799.6L528.4 1805.7L534.8 1810.6L541.2 1814.5L547.5 1817.4L553.9 1819.5L560.3 1821.0L566.7 1821.8L573.0 1822.3L579.4 1822.4L585.8 1822.3L592.2 1821.9L598.5 1821.4L604.9 1820.7L611.3 1819.8L617.7 1818.8L624.0 1817.6L630.4 1816.2L636.8 1814.7L643.2 1812.9L649.5 1810.9L655.9 1808.8L662.3 1806.5L668.6 1804.1L675.0 1801.5L681.4 1798.8L687.8 1796.1L694.1 1793.4L700.5 1790.8L706.9 1788.2L713.3 1785.8L719.6 1783.7L726.0 1781.8L732.4 1780.2L738.8 1779.0L745.1 1778.1L751.5 1777.7L757.9 1777.7L764.3 1778.1L770.6 1778.8L777.0 1780.0L783.4 1781.4L789.8 1783.2L796.1 1785.2L802.5 1787.4L808.9 1789.8L815.2 1792.3L821.6 1794.8L828.0 1797.4L834.4 1800.0L840.7 1802.5L847.1 1804.9L853.5 1807.2L859.9 1809.4L866.2 1811.4L872.6 1813.2L879.0 1814.8L885.4 1816.3L891.7 1817.6L898.1 1818.8L904.5 1819.8L910.9 1820.7L917.2 1821.4L923.6 1822.0L930.0 1822.5L936.4 1823.0L942.7 1823.3L949.1 1823.6L955.5 1823.8L961.9 1824.0L968.2 1824.1L974.6 1824.3L981.0 1824.3L987.3 1824.4L993.7 1824.5L1000.1 1824.5L1006.5 1824.5L1012.8 1824.5L1019.2 1824.6L1025.6 1824.6L1032.0 1824.6L1038.3 1824.6L1044.7 1824.6L1051.1 1824.6L1057.5 1824.6L1063.8 1824.6L1070.2 1824.6L1076.6 1824.6L1083.0 1824.6L1089.3 1824.6L1095.7 1824.6L1102.1 1824.6L1108.5 1824.6L1114.8 1824.6L1121.2 1824.6" fill="none" stroke="#595959" stroke-width="4.8" stroke-linejoin="round"/>
<path d="M165.1 1824.6L166.4 1824.6L167.6 1824.6L168.9 1824.6L170.2 1824.6L171.5 1824.6L172.7 1824.6L174.0 1824.6L175.3 1824.6L176.6 1824.6L177.8 1824.6L179.1 1824.6L180.4 1824.6L181.7 1824.6L182.9 1824.6L184.2 1824.6L185.5 1824.6L186.8 1824.6L188.0 1824.6L189.3 1824.6L190.6 1824.6L191.9 1824.6L193.1 1824.6L194.4 1824.6L195.7 1824.6L197.0 1824.6L198.2 1824.6L199.5 1824.5L200.8 1824.5L202.1 1824.3L203.3 1824.1L204.6 1823.5L205.9 1822.6L207.2 1820.8L208.4 1818.0L209.7 1813.3L211.0 1805.9L212.3 1794.9L213.5 1779.2L214.8 1757.5L216.1 1729.0L217.4 1693.3L218.6 1650.6L219.9 1602.3L221.2 1550.8L222.5 1499.3L223.7 1451.9L225.0 1412.8L226.3 1385.8L227.6 1373.7L228.8 1377.7L230.1 1397.5L231.4 1431.0L232.7 1474.8L233.9 1524.8L235.2 1576.8L236.5 1627.1L237.8 1672.7L239.0 1712.0L240.3 1744.1L241.6 1769.1L242.9 1787.7L244.1 1800.9L245.4 1810.0L246.7 1815.9L248.0 1819.6L249.2 1821.8L250.5 1823.1L251.8 1823.8L253.1 1824.2L254.3 1824.4L255.6 1824.5L256.9 1824.6L258.2 1824.6L259.4 1824.6L260.7 1824.6L262.0 1824.6L263.3 1824.6L264.5 1824.6L265.8 1824.6L267.1 1824.6L273.5 1824.6L279.8 1824.6L286.2 1824.6L292.6 1824.6L299.0 1824.6L305.3 1824.6L311.7 1824.6L318.1 1824.6L324.5 1824.6L330.8 1824.6L337.2 1824.6L343.6 1824.5L349.9 1824.4L356.3 1824.1L362.7 1823.7L369.1 1822.8L375.4 1821.5L381.8 1819.3L388.2 1816.0L394.6 1811.2L400.9 1804.9L407.3 1796.8L413.7 1787.2L420.1 1776.7L426.4 1766.1L432.8 1756.3L439.2 1748.7L445.6 1744.0L451.9 1743.0L458.3 1745.4L464.7 1750.7L471.1 1758.3L477.4 1767.4L483.8 1777.2L490.2 1786.7L496.5 1795.5L502.9 1802.9L509.3 1809.0L515.7 1813.5L522.0 1816.8L528.4 1819.0L534.8 1820.3L541.2 1821.0L547.5 1821.3L553.9 1821.3L560.3 1821.0L566.7 1820.6L573.0 1820.0L579.4 1819.4L585.8 1818.7L592.2 1817.9L598.5 1817.0L604.9 1816.1L611.3 1815.0L617.7 1814.0L624.0 1812.8L630.4 1811.5L636.8 1810.2L643.2 1808.9L649.5 1807.4L655.9 1806.0L662.3 1804.4L668.6 1802.9L675.0 1801.4L681.4 1799.8L687.8 1798.3L694.1 1796.8L700.5 1795.3L706.9 1793.9L713.3 1792.6L719.6 1791.4L726.0 1790.3L732.4 1789.2L738.8 1788.4L745.1 1787.6L751.5 1787.1L757.9 1786.6L764.3 1786.4L770.6 1786.3L777.0 1786.4L783.4 1786.7L789.8 1787.2L796.1 1787.9L802.5 1788.8L808.9 1789.9L815.2 1791.1L821.6 1792.5L828.0 1793.9L834.4 1795.5L840.7 1797.1L847.1 1798.8L853.5 1800.5L859.9 1802.2L866.2 1803.9L872.6 1805.6L879.0 1807.3L885.4 1808.9L891.7 1810.4L898.1 1811.8L904.5 1813.2L910.9 1814.4L917.2 1815.6L923.6 1816.7L930.0 1817.7L936.4 1818.6L942.7 1819.4L949.1 1820.1L955.5 1820.8L961.9 1821.4L968.2 1821.9L974.6 1822.3L981.0 1822.7L987.3 1823.0L993.7 1823.3L1000.1 1823.5L1006.5 1823.7L1012.8 1823.9L1019.2 1824.0L1025.6 1824.1L1032.0 1824.2L1038.3 1824.3L1044.7 1824.4L1051.1 1824.4L1057.5 1824.5L1063.8 1824.5L1070.2 1824.5L1076.6 1824.5L1083.0 1824.5L1089.3 1824.6L1095.7 1824.6L1102.1 1824.6L1108.5 1824.6L1114.8 1824.6L1121.2 1824.6" fill="none" stroke="#1f83ea" stroke-width="5.2" stroke-linejoin="round" stroke-dasharray="13 5"/>
<path d="M165.1 1824.6L166.4 1824.6L167.6 1824.6L168.9 1824.6L170.2 1824.6L171.5 1824.6L172.7 1824.6L174.0 1824.6L175.3 1824.6L176.6 1824.6L177.8 1824.6L179.1 1824.6L180.4 1824.6L181.7 1824.6L182.9 1824.6L184.2 1824.6L185.5 1824.6L186.8 1824.6L188.0 1824.6L189.3 1824.6L190.6 1824.6L191.9 1824.6L193.1 1824.6L194.4 1824.6L195.7 1824.6L197.0 1824.5L198.2 1824.5L199.5 1824.4L200.8 1824.1L202.1 1823.8L203.3 1823.1L204.6 1822.1L205.9 1820.4L207.2 1817.8L208.4 1813.9L209.7 1808.1L211.0 1799.9L212.3 1788.7L213.5 1773.8L214.8 1754.6L216.1 1730.9L217.4 1702.7L218.6 1670.2L219.9 1634.4L221.2 1596.8L222.5 1559.2L223.7 1523.8L225.0 1493.1L226.3 1469.3L227.6 1454.2L228.8 1449.0L230.1 1454.2L231.4 1469.3L232.7 1493.1L233.9 1523.8L235.2 1559.2L236.5 1596.8L237.8 1634.4L239.0 1670.2L240.3 1702.7L241.6 1730.9L242.9 1754.6L244.1 1773.8L245.4 1788.7L246.7 1799.9L248.0 1808.1L249.2 1813.9L250.5 1817.8L251.8 1820.4L253.1 1822.1L254.3 1823.1L255.6 1823.8L256.9 1824.1L258.2 1824.4L259.4 1824.5L260.7 1824.5L262.0 1824.6L263.3 1824.6L264.5 1824.6L265.8 1824.6L267.1 1824.6L273.5 1824.6L279.8 1824.6L286.2 1824.6L292.6 1824.6L299.0 1824.6L305.3 1824.6L311.7 1824.6L318.1 1824.6L324.5 1824.6L330.8 1824.6L337.2 1824.6L343.6 1824.6L349.9 1824.5L356.3 1824.4L362.7 1824.2L369.1 1823.8L375.4 1823.1L381.8 1822.0L388.2 1820.1L394.6 1817.3L400.9 1813.2L407.3 1807.7L413.7 1800.4L420.1 1791.7L426.4 1781.6L432.8 1771.0L439.2 1760.5L445.6 1751.4L451.9 1744.7L458.3 1741.0L464.7 1741.0L471.1 1744.2L477.4 1750.4L483.8 1758.8L490.2 1768.5L496.5 1778.6L502.9 1788.3L509.3 1797.1L515.7 1804.5L522.0 1810.5L528.4 1814.9L534.8 1818.1L541.2 1820.3L547.5 1821.6L553.9 1822.4L560.3 1822.7L566.7 1822.8L573.0 1822.7L579.4 1822.5L585.8 1822.1L592.2 1821.7L598.5 1821.2L604.9 1820.6L611.3 1819.9L617.7 1819.2L624.0 1818.4L630.4 1817.5L636.8 1816.5L643.2 1815.4L649.5 1814.2L655.9 1812.9L662.3 1811.5L668.6 1810.1L675.0 1808.6L681.4 1807.0L687.8 1805.4L694.1 1803.8L700.5 1802.1L706.9 1800.5L713.3 1798.8L719.6 1797.2L726.0 1795.7L732.4 1794.2L738.8 1792.8L745.1 1791.6L751.5 1790.5L757.9 1789.5L764.3 1788.8L770.6 1788.2L777.0 1787.8L783.4 1787.6L789.8 1787.6L796.1 1787.7L802.5 1788.1L808.9 1788.6L815.2 1789.3L821.6 1790.1L828.0 1791.1L834.4 1792.2L840.7 1793.4L847.1 1794.7L853.5 1796.1L859.9 1797.5L866.2 1799.0L872.6 1800.6L879.0 1802.1L885.4 1803.7L891.7 1805.2L898.1 1806.7L904.5 1808.2L910.9 1809.6L917.2 1811.0L923.6 1812.3L930.0 1813.5L936.4 1814.6L942.7 1815.7L949.1 1816.7L955.5 1817.6L961.9 1818.5L968.2 1819.2L974.6 1819.9L981.0 1820.5L987.3 1821.1L993.7 1821.6L1000.1 1822.0L1006.5 1822.4L1012.8 1822.7L1019.2 1823.0L1025.6 1823.3L1032.0 1823.5L1038.3 1823.7L1044.7 1823.9L1051.1 1824.0L1057.5 1824.1L1063.8 1824.2L1070.2 1824.3L1076.6 1824.3L1083.0 1824.4L1089.3 1824.4L1095.7 1824.5L1102.1 1824.5L1108.5 1824.5L1114.8 1824.5L1121.2 1824.5" fill="none" stroke="#2ca64b" stroke-width="5.2" stroke-linejoin="round" stroke-dasharray="13 5"/>
<path d="M165.1 1824.6L166.4 1824.6L167.6 1824.6L168.9 1824.6L170.2 1824.6L171.5 1824.6L172.7 1824.6L174.0 1824.6L175.3 1824.6L176.6 1824.6L177.8 1824.6L179.1 1824.6L180.4 1824.6L181.7 1824.6L182.9 1824.5L184.2 1824.4L185.5 1824.1L186.8 1823.4L188.0 1821.8L189.3 1818.6L190.6 1812.5L191.9 1801.5L193.1 1783.1L194.4 1754.1L195.7 1711.8L197.0 1654.5L198.2 1582.5L199.5 1499.8L200.8 1413.8L202.1 1334.6L203.3 1273.4L204.6 1240.1L205.9 1240.1L207.2 1273.4L208.4 1334.6L209.7 1413.8L211.0 1499.8L212.3 1582.5L213.5 1654.5L214.8 1711.8L216.1 1754.1L217.4 1783.1L218.6 1801.5L219.9 1812.5L221.2 1818.6L222.5 1821.8L223.7 1823.4L225.0 1824.1L226.3 1824.4L227.6 1824.5L228.8 1824.6L230.1 1824.6L231.4 1824.6L232.7 1824.6L233.9 1824.6L235.2 1824.6L236.5 1824.6L237.8 1824.6L239.0 1824.6L240.3 1824.6L241.6 1824.6L242.9 1824.6L244.1 1824.6L245.4 1824.6L246.7 1824.6L248.0 1824.6L249.2 1824.6L250.5 1824.6L251.8 1824.6L253.1 1824.6L254.3 1824.6L255.6 1824.6L256.9 1824.6L258.2 1824.6L259.4 1824.6L260.7 1824.6L262.0 1824.6L263.3 1824.6L264.5 1824.6L265.8 1824.6L267.1 1824.6L273.5 1824.6L279.8 1824.6L286.2 1824.6L292.6 1824.6L299.0 1824.6L305.3 1824.6L311.7 1824.6L318.1 1824.6L324.5 1824.6L330.8 1824.6L337.2 1824.6L343.6 1824.6L349.9 1824.6L356.3 1824.6L362.7 1824.5L369.1 1824.4L375.4 1824.2L381.8 1823.7L388.2 1822.7L394.6 1821.1L400.9 1818.3L407.3 1814.0L413.7 1807.6L420.1 1798.9L426.4 1787.7L432.8 1774.6L439.2 1760.5L445.6 1746.8L451.9 1735.2L458.3 1727.5L464.7 1724.8L471.1 1727.2L477.4 1734.1L483.8 1744.6L490.2 1757.3L496.5 1770.7L502.9 1783.5L509.3 1794.8L515.7 1803.9L522.0 1811.0L528.4 1816.0L534.8 1819.3L541.2 1821.4L547.5 1822.6L553.9 1823.3L560.3 1823.5L566.7 1823.5L573.0 1823.4L579.4 1823.1L585.8 1822.8L592.2 1822.4L598.5 1821.9L604.9 1821.2L611.3 1820.5L617.7 1819.7L624.0 1818.7L630.4 1817.7L636.8 1816.4L643.2 1815.1L649.5 1813.6L655.9 1811.9L662.3 1810.1L668.6 1808.2L675.0 1806.1L681.4 1804.0L687.8 1801.8L694.1 1799.5L700.5 1797.2L706.9 1795.0L713.3 1792.8L719.6 1790.7L726.0 1788.7L732.4 1786.9L738.8 1785.3L745.1 1783.9L751.5 1782.8L757.9 1782.0L764.3 1781.5L770.6 1781.4L777.0 1781.5L783.4 1781.9L789.8 1782.6L796.1 1783.5L802.5 1784.7L808.9 1786.1L815.2 1787.6L821.6 1789.4L828.0 1791.2L834.4 1793.2L840.7 1795.2L847.1 1797.3L853.5 1799.4L859.9 1801.5L866.2 1803.6L872.6 1805.5L879.0 1807.4L885.4 1809.3L891.7 1811.0L898.1 1812.6L904.5 1814.1L910.9 1815.4L917.2 1816.6L923.6 1817.8L930.0 1818.7L936.4 1819.6L942.7 1820.4L949.1 1821.1L955.5 1821.7L961.9 1822.2L968.2 1822.6L974.6 1823.0L981.0 1823.3L987.3 1823.5L993.7 1823.7L1000.1 1823.9L1006.5 1824.1L1012.8 1824.2L1019.2 1824.3L1025.6 1824.3L1032.0 1824.4L1038.3 1824.4L1044.7 1824.5L1051.1 1824.5L1057.5 1824.5L1063.8 1824.6L1070.2 1824.6L1076.6 1824.6L1083.0 1824.6L1089.3 1824.6L1095.7 1824.6L1102.1 1824.6L1108.5 1824.6L1114.8 1824.6L1121.2 1824.6" fill="none" stroke="#f5831a" stroke-width="5.2" stroke-linejoin="round" stroke-dasharray="13 5"/>
<path d="M117 1206V1853H1169" fill="none" stroke="#000" stroke-width="2.2"/>
<path d="M110 1824.6H117" stroke="#000" stroke-width="2"/>
<text x="105" y="1831.1" font-family="Liberation Serif" font-weight="bold" font-size="19" text-anchor="end">0</text>
<path d="M110 1701.0H117" stroke="#000" stroke-width="2"/>
<text x="105" y="1707.5" font-family="Liberation Serif" font-weight="bold" font-size="19" text-anchor="end">5</text>
<path d="M110 1577.5H117" stroke="#000" stroke-width="2"/>
<text x="105" y="1584.0" font-family="Liberation Serif" font-weight="bold" font-size="19" text-anchor="end">10</text>
<path d="M110 1453.9H117" stroke="#000" stroke-width="2"/>
<text x="105" y="1460.4" font-family="Liberation Serif" font-weight="bold" font-size="19" text-anchor="end">15</text>
<path d="M110 1330.4H117" stroke="#000" stroke-width="2"/>
<text x="105" y="1336.9" font-family="Liberation Serif" font-weight="bold" font-size="19" text-anchor="end">20</text>
<path d="M324.4 1853V1860" stroke="#000" stroke-width="2"/>
<path d="M483.8 1853V1860" stroke="#000" stroke-width="2"/>
<path d="M643.1 1853V1860" stroke="#000" stroke-width="2"/>
<path d="M802.5 1853V1860" stroke="#000" stroke-width="2"/>
<path d="M961.9 1853V1860" stroke="#000" stroke-width="2"/>
<path d="M1121.2 1853V1860" stroke="#000" stroke-width="2"/>
<text x="162.1" y="1880" font-family="Liberation Serif" font-weight="bold" font-size="19" text-anchor="middle">0.0</text>
<text x="321.4" y="1880" font-family="Liberation Serif" font-weight="bold" font-size="19" text-anchor="middle">0.5</text>
<text x="480.8" y="1880" font-family="Liberation Serif" font-weight="bold" font-size="19" text-anchor="middle">1.0</text>
<text x="640.1" y="1880" font-family="Liberation Serif" font-weight="bold" font-size="19" text-anchor="middle">1.5</text>
<text x="799.5" y="1880" font-family="Liberation Serif" font-weight="bold" font-size="19" text-anchor="middle">2.0</text>
<text x="958.9" y="1880" font-family="Liberation Serif" font-weight="bold" font-size="19" text-anchor="middle">2.5</text>
<text x="1118.2" y="1880" font-family="Liberation Serif" font-weight="bold" font-size="19" text-anchor="middle">3.0</text>
<text x="453" y="1928" font-family="Liberation Serif" font-weight="bold" font-size="28" textLength="490" lengthAdjust="spacingAndGlyphs">Synonymous nucleotide subsititution (<tspan font-style="italic">K</tspan><tspan font-style="italic" font-size="19" dy="4">s</tspan><tspan dy="-4">)</tspan></text>
<text transform="translate(57,1732) rotate(-90)" font-family="Liberation Serif" font-weight="bold" font-size="28" textLength="388" lengthAdjust="spacingAndGlyphs">kernel density of syntenic blocks</text>
<text x="226" y="1240" font-family="Liberation Serif" font-weight="bold" font-size="20" textLength="69" lengthAdjust="spacingAndGlyphs">Ks~0.12</text>
<text x="247" y="1370.7" font-family="Liberation Serif" font-weight="bold" font-size="20" textLength="69" lengthAdjust="spacingAndGlyphs">Ks~0.19</text>
<text x="478.8" y="1703" font-family="Liberation Serif" font-weight="bold" font-size="20" textLength="69" lengthAdjust="spacingAndGlyphs">Ks~0.92</text>
<text x="766" y="1755" font-family="Liberation Serif" font-weight="bold" font-size="20" textLength="69" lengthAdjust="spacingAndGlyphs">Ks~1.92</text>
<path d="M509 1333.5H565.5" stroke="#d7304a" stroke-width="4.6"/>
<text x="582" y="1338.5" font-family="Liberation Serif" font-weight="bold" font-style="italic" font-size="19" textLength="111" lengthAdjust="spacingAndGlyphs">S. guianensis</text>
<path d="M509 1376H565.5" stroke="#6a3fc0" stroke-width="4.6"/>
<text x="579" y="1382" font-family="Liberation Serif" font-weight="bold" font-style="italic" font-size="19" textLength="89" lengthAdjust="spacingAndGlyphs">A. ipaensis</text>
<path d="M509 1418.7H565.5" stroke="#2fc29a" stroke-width="4.6"/>
<text x="579" y="1425" font-family="Liberation Serif" font-weight="bold" font-style="italic" font-size="19" textLength="114" lengthAdjust="spacingAndGlyphs">A. duranensis</text>
<path d="M509 1460.9H565.5" stroke="#595959" stroke-width="4.6"/>
<text x="578" y="1468" font-family="Liberation Serif" font-weight="bold" font-style="italic" font-size="19" textLength="122" lengthAdjust="spacingAndGlyphs">S. angustifolia</text>
<path d="M720 1334.7H774" stroke="#1f83ea" stroke-width="5.2" stroke-dasharray="13 5"/>
<text x="789" y="1340.5" font-family="Liberation Serif" font-weight="bold" font-style="italic" font-size="19" textLength="221" lengthAdjust="spacingAndGlyphs">S. guianensis<tspan font-style="normal">vs </tspan>A. ipaensis</text>
<path d="M720 1377.3H774" stroke="#2ca64b" stroke-width="5.2" stroke-dasharray="13 5"/>
<text x="789" y="1381" font-family="Liberation Serif" font-weight="bold" font-style="italic" font-size="19" textLength="246" lengthAdjust="spacingAndGlyphs">S. guianensis<tspan font-style="normal">vs </tspan>A. duranensis</text>
<path d="M720 1419.5H774" stroke="#f5831a" stroke-width="5.2" stroke-dasharray="13 5"/>
<text x="789" y="1424.5" font-family="Liberation Serif" font-weight="bold" font-style="italic" font-size="19" textLength="254.5" lengthAdjust="spacingAndGlyphs">S. guianensis<tspan font-style="normal">vs </tspan>S. angustifolia</text>
<text x="1154" y="1143" font-family="Liberation Sans" font-size="41" fill="#000" textLength="48" lengthAdjust="spacingAndGlyphs">(c)</text>
<path d="M1508.69 1521.13L1508.69 1228.83A292.3 292.3 0 0 1 1796.25 1573.53Z" fill="#badbb5" stroke="#fff" stroke-width="4.2" stroke-linejoin="miter"/>
<path d="M1508.32 1527.66L1795.89 1580.07A292.3 292.3 0 0 1 1548.72 1817.16Z" fill="#74b266" stroke="#fff" stroke-width="4.2" stroke-linejoin="miter"/>
<path d="M1503.76 1528.84L1544.16 1818.33A292.3 292.3 0 0 1 1324.18 1759.47Z" fill="#7099ad" stroke="#fff" stroke-width="4.2" stroke-linejoin="miter"/>
<path d="M1500.56 1526.03L1320.98 1756.65A292.3 292.3 0 0 1 1210.68 1488.50Z" fill="#e09135" stroke="#fff" stroke-width="4.2" stroke-linejoin="miter"/>
<path d="M1500.85 1521.79L1210.97 1484.26A292.3 292.3 0 0 1 1324.02 1289.05Z" fill="#95c7ce" stroke="#fff" stroke-width="4.2" stroke-linejoin="miter"/>
<path d="M1503.47 1519.65L1326.64 1286.90A292.3 292.3 0 0 1 1503.47 1227.35Z" fill="#4a5d7f" stroke="#fff" stroke-width="4.2" stroke-linejoin="miter"/>
<text x="1597.3" y="1440.4" font-family="Liberation Serif" font-weight="bold" font-size="39" textLength="155" lengthAdjust="spacingAndGlyphs">221, 28%</text>
<text x="1586.6" y="1663.2" font-family="Liberation Serif" font-weight="bold" font-size="39" textLength="153" lengthAdjust="spacingAndGlyphs">158, 20%</text>
<text x="1365.7" y="1762" font-family="Liberation Serif" font-weight="bold" font-size="39" textLength="153" lengthAdjust="spacingAndGlyphs">101, 13%</text>
<text x="1233.6" y="1590.5" font-family="Liberation Serif" font-weight="bold" font-size="39" textLength="152.5" lengthAdjust="spacingAndGlyphs">131, 16%</text>
<text x="1241.3" y="1461" font-family="Liberation Serif" font-weight="bold" font-size="39" textLength="153" lengthAdjust="spacingAndGlyphs">100, 13%</text>
<text x="1360.7" y="1314.9" font-family="Liberation Serif" font-weight="bold" font-size="39" textLength="135.5" lengthAdjust="spacingAndGlyphs">82, 10%</text>
<rect x="1868.8" y="1340.4" width="13.4" height="13.4" fill="#badbb5"/>
<text x="1894.7" y="1358.7" font-family="Liberation Serif" font-size="37" fill="#595959" textLength="65.7" lengthAdjust="spacingAndGlyphs">ePD</text>
<rect x="1868.8" y="1416.2" width="13.4" height="13.4" fill="#74b266"/>
<text x="1894.7" y="1434.5" font-family="Liberation Serif" font-size="37" fill="#595959" textLength="67.8" lengthAdjust="spacingAndGlyphs">eTD</text>
<rect x="1868.8" y="1491.9" width="13.4" height="13.4" fill="#7099ad"/>
<text x="1894.7" y="1510.2" font-family="Liberation Serif" font-size="37" fill="#595959" textLength="93.9" lengthAdjust="spacingAndGlyphs">eDSD</text>
<rect x="1868.8" y="1567.6" width="13.4" height="13.4" fill="#e09135"/>
<text x="1894.7" y="1585.9" font-family="Liberation Serif" font-size="37" fill="#595959" textLength="109.2" lengthAdjust="spacingAndGlyphs">eWGD</text>
<rect x="1868.8" y="1643.3" width="13.4" height="13.4" fill="#95c7ce"/>
<text x="1894.7" y="1661.6" font-family="Liberation Serif" font-size="37" fill="#595959" textLength="93.9" lengthAdjust="spacingAndGlyphs">eTRD</text>
<rect x="1868.8" y="1719.1" width="13.4" height="13.4" fill="#4a5d7f"/>
<text x="1894.7" y="1737.4" font-family="Liberation Serif" font-size="37" fill="#595959" textLength="88.5" lengthAdjust="spacingAndGlyphs">Other</text>
<text x="39" y="1985" font-family="Liberation Sans" font-size="41" fill="#000" textLength="50" lengthAdjust="spacingAndGlyphs">(d)</text>
<path d="M109.2 2065.6C109.2 2125.3999999999996 109.2 2125.3999999999996 109.2 2185.2L228.7 2185.2C228.7 2125.3999999999996 226 2125.3999999999996 226 2065.6Z" fill="#e3e3e3"/>
<path d="M240.5 2065.6C240.5 2125.3999999999996 243.3 2125.3999999999996 243.3 2185.2L341.5 2185.2C341.5 2125.3999999999996 335.5 2125.3999999999996 335.5 2065.6Z" fill="#e3e3e3"/>
<path d="M350 2065.6C350 2125.3999999999996 356 2125.3999999999996 356 2185.2L447 2185.2C447 2125.3999999999996 441 2125.3999999999996 441 2065.6Z" fill="#e3e3e3"/>
<path d="M455.6 2065.6C455.6 2125.3999999999996 461 2125.3999999999996 461 2185.2L549 2185.2C549 2125.3999999999996 538.3 2125.3999999999996 538.3 2065.6Z" fill="#e3e3e3"/>
<path d="M552.7 2065.6C552.7 2125.3999999999996 563.3 2125.3999999999996 563.3 2185.2L656 2185.2C656 2125.3999999999996 644 2125.3999999999996 644 2065.6Z" fill="#e3e3e3"/>
<path d="M659.3 2065.6C659.3 2125.3999999999996 670.6 2125.3999999999996 670.6 2185.2L751.8 2185.2C751.8 2125.3999999999996 747 2125.3999999999996 747 2065.6Z" fill="#e3e3e3"/>
<path d="M762.2 2065.6C762.2 2125.3999999999996 766.5 2125.3999999999996 766.5 2185.2L858.4 2185.2C858.4 2125.3999999999996 854 2125.3999999999996 854 2065.6Z" fill="#e3e3e3"/>
<path d="M868.6 2065.6C868.6 2125.3999999999996 873.2 2125.3999999999996 873.2 2185.2L951 2185.2C951 2125.3999999999996 949.6 2125.3999999999996 949.6 2065.6Z" fill="#e3e3e3"/>
<path d="M964.6 2065.6C964.6 2125.3999999999996 965.6 2125.3999999999996 965.6 2185.2L1047.4 2185.2C1047.4 2125.3999999999996 1047.2 2125.3999999999996 1047.2 2065.6Z" fill="#e3e3e3"/>
<path d="M1062 2065.6C1062 2125.3999999999996 1062.6 2125.3999999999996 1062.6 2185.2L1131.6 2185.2C1131.6 2125.3999999999996 1131.6 2125.3999999999996 1131.6 2065.6Z" fill="#e3e3e3"/>
<path d="M108.2 2187.2C108.2 2248.2 214.6 2291.0 214.6 2351.9L193.6 2340.0C193.6 2283.5 171.4 2243.7 171.4 2187.2Z" fill="#e3e3e3"/>
<path d="M156.8 2187.2C156.8 2248.8 217.5 2292.0 217.5 2353.6L238.5 2365.5C238.5 2299.5 220.0 2253.2 220.0 2187.2Z" fill="#e3e3e3"/>
<path d="M117.9 2187.2C117.9 2336.8 641.3 2441.9 641.3 2591.4L660.8 2580.4C660.8 2434.9 181.1 2332.7 181.1 2187.2Z" fill="#e3e3e3"/>
<path d="M166.5 2187.2C166.5 2332.1 663.4 2434.0 663.4 2578.9L682.9 2567.9C682.9 2427.1 229.7 2328.1 229.7 2187.2Z" fill="#e3e3e3"/>
<path d="M242.3 2187.2C242.3 2256.5 249.1 2305.3 249.1 2374.6L265.2 2383.8C265.2 2311.1 294.4 2260.0 294.4 2187.2Z" fill="#e3e3e3"/>
<path d="M282.4 2187.2C282.4 2263.8 283.4 2317.7 283.4 2394.3L267.3 2385.1C267.3 2311.9 334.5 2260.4 334.5 2187.2Z" fill="#e3e3e3"/>
<path d="M250.3 2187.2C250.3 2321.4 709.4 2415.6 709.4 2549.8L692.6 2558.5C692.6 2421.1 302.4 2324.6 302.4 2187.2Z" fill="#e3e3e3"/>
<path d="M290.4 2187.2C290.4 2320.9 711.6 2414.9 711.6 2548.6L728.4 2539.9C728.4 2409.4 342.5 2317.7 342.5 2187.2Z" fill="#e3e3e3"/>
<path d="M460.0 2187.2C460.0 2285.5 375.0 2354.6 375.0 2452.9L390.0 2461.3C390.0 2359.9 506.8 2288.6 506.8 2187.2Z" fill="#e3e3e3"/>
<path d="M496.0 2187.2C496.0 2292.1 407.0 2365.9 407.0 2470.8L392.0 2462.4C392.0 2360.6 542.8 2289.0 542.8 2187.2Z" fill="#e3e3e3"/>
<path d="M467.2 2187.2C467.2 2295.4 819.5 2371.4 819.5 2479.6L833.3 2472.4C833.3 2366.9 514.0 2292.7 514.0 2187.2Z" fill="#e3e3e3"/>
<path d="M503.2 2187.2C503.2 2292.4 835.2 2366.3 835.2 2471.5L849.0 2464.3C849.0 2361.8 550.0 2289.7 550.0 2187.2Z" fill="#e3e3e3"/>
<path d="M562.3 2187.2C562.3 2295.2 416.7 2371.0 416.7 2479.0L431.4 2487.9C431.4 2376.6 611.5 2298.5 611.5 2187.2Z" fill="#e3e3e3"/>
<path d="M600.2 2187.2C600.2 2298.9 433.4 2377.4 433.4 2489.1L448.1 2498.0C448.1 2383.0 649.4 2302.2 649.4 2187.2Z" fill="#e3e3e3"/>
<path d="M569.9 2187.2C569.9 2286.4 858.7 2356.1 858.7 2455.2L874.8 2446.8C874.8 2350.7 619.1 2283.2 619.1 2187.2Z" fill="#e3e3e3"/>
<path d="M607.8 2187.2C607.8 2279.7 893.0 2344.7 893.0 2437.2L876.9 2445.6C876.9 2350.0 657.0 2282.8 657.0 2187.2Z" fill="#e3e3e3"/>
<path d="M669.6 2187.2C669.6 2304.8 458.2 2387.5 458.2 2505.1L473.6 2513.5C473.6 2392.8 712.9 2307.9 712.9 2187.2Z" fill="#e3e3e3"/>
<path d="M702.9 2187.2C702.9 2308.3 475.8 2393.5 475.8 2514.6L491.2 2523.0C491.2 2398.8 746.1 2311.5 746.1 2187.2Z" fill="#e3e3e3"/>
<path d="M676.3 2187.2C676.3 2276.3 902.1 2338.9 902.1 2428.1L917.5 2420.1C917.5 2333.9 719.5 2273.4 719.5 2187.2Z" fill="#e3e3e3"/>
<path d="M709.5 2187.2C709.5 2273.0 919.5 2333.2 919.5 2419.0L934.9 2411.0C934.9 2328.2 752.8 2270.0 752.8 2187.2Z" fill="#e3e3e3"/>
<path d="M765.5 2187.2C765.5 2314.4 500.1 2403.9 500.1 2531.1L513.3 2538.4C513.3 2408.5 814.3 2317.2 814.3 2187.2Z" fill="#e3e3e3"/>
<path d="M803.1 2187.2C803.1 2320.3 528.3 2413.7 528.3 2546.8L515.1 2539.5C515.1 2409.1 851.9 2317.5 851.9 2187.2Z" fill="#e3e3e3"/>
<path d="M773.0 2187.2C773.0 2266.7 943.7 2322.5 943.7 2402.0L957.2 2395.2C957.2 2318.2 821.8 2264.1 821.8 2187.2Z" fill="#e3e3e3"/>
<path d="M810.6 2187.2C810.6 2263.8 959.1 2317.6 959.1 2394.2L972.6 2387.4C972.6 2313.3 859.4 2261.3 859.4 2187.2Z" fill="#e3e3e3"/>
<path d="M872.2 2187.2C872.2 2323.2 537.0 2418.8 537.0 2554.8L550.9 2562.3C550.9 2423.5 913.7 2326.0 913.7 2187.2Z" fill="#e3e3e3"/>
<path d="M904.1 2187.2C904.1 2329.1 566.6 2428.9 566.6 2570.8L552.7 2563.3C552.7 2424.1 945.6 2326.4 945.6 2187.2Z" fill="#e3e3e3"/>
<path d="M878.6 2187.2C878.6 2258.1 981.3 2307.9 981.3 2378.7L994.6 2371.8C994.6 2303.5 920.1 2255.5 920.1 2187.2Z" fill="#e3e3e3"/>
<path d="M910.5 2187.2C910.5 2255.2 996.5 2302.9 996.5 2370.9L1009.8 2364.0C1009.8 2298.6 952.0 2252.6 952.0 2187.2Z" fill="#e3e3e3"/>
<path d="M964.6 2187.2C964.6 2332.1 575.2 2433.9 575.2 2578.7L586.7 2584.8C586.7 2437.7 1008.2 2334.3 1008.2 2187.2Z" fill="#e3e3e3"/>
<path d="M998.1 2187.2C998.1 2334.6 588.2 2438.2 588.2 2585.7L599.7 2591.8C599.7 2442.1 1041.7 2336.9 1041.7 2187.2Z" fill="#e3e3e3"/>
<path d="M971.3 2187.2C971.3 2249.3 1018.6 2292.9 1018.6 2355.0L1032.4 2347.5C1032.4 2288.2 1014.9 2246.5 1014.9 2187.2Z" fill="#e3e3e3"/>
<path d="M1004.8 2187.2C1004.8 2246.1 1034.3 2287.6 1034.3 2346.5L1048.1 2339.0C1048.1 2282.8 1048.4 2243.4 1048.4 2187.2Z" fill="#e3e3e3"/>
<path d="M1071.5 2187.2C1071.5 2272.7 299.4 2321.0 299.4 2406.5" fill="none" stroke="#c44e52" stroke-width="2.2"/>
<path d="M1074.5 2187.2C1074.5 2274.9 309.8 2324.3 309.8 2411.9" fill="none" stroke="#c44e52" stroke-width="2.4"/>
<path d="M1078.0 2187.2C1078.0 2277.1 320.8 2327.8 320.8 2417.7" fill="none" stroke="#c44e52" stroke-width="1.4"/>
<path d="M1087.0 2187.2C1087.0 2287.7 340.4 2331.8 340.4 2432.3" fill="none" stroke="#c44e52" stroke-width="3.2"/>
<path d="M1091.0 2187.2C1091.0 2289.7 350.1 2334.7 350.1 2437.2" fill="none" stroke="#c44e52" stroke-width="2.6"/>
<path d="M1095.0 2187.2C1095.0 2291.7 359.8 2337.6 359.8 2442.0" fill="none" stroke="#c44e52" stroke-width="1.4"/>
<path d="M355.0 2187.0C354.5 2194.2 353.6 2216.9 352.0 2230.0C350.4 2243.1 347.9 2254.4 345.2 2265.7C342.5 2277.0 338.8 2287.0 335.6 2297.6C332.4 2308.2 329.7 2318.9 326.0 2329.5C322.3 2340.1 317.3 2352.2 313.3 2361.4C309.3 2370.7 305.2 2378.2 302.0 2385.0C298.8 2391.8 295.3 2399.2 294.0 2402.0L327.6 2421.0C327.6 2415.8 327.0 2399.9 327.6 2390.0C328.2 2380.1 327.5 2371.5 331.0 2361.4C334.5 2351.3 342.8 2340.1 348.4 2329.5C353.9 2318.9 359.5 2308.2 364.3 2297.6C369.1 2287.0 372.4 2277.0 377.0 2265.7C381.6 2254.4 388.0 2243.1 392.0 2230.0C396.0 2216.9 399.5 2194.2 401.0 2187.0Z" fill="#c44e52"/>
<path d="M396.0 2187.0C395.3 2194.2 393.6 2216.9 392.0 2230.0C390.4 2243.1 389.1 2254.4 386.6 2265.7C384.1 2277.0 380.7 2287.0 377.0 2297.6C373.3 2308.2 368.3 2318.9 364.3 2329.5C360.3 2340.1 356.4 2350.8 353.2 2361.4C350.0 2372.0 347.7 2384.4 345.2 2393.3C342.7 2402.2 339.8 2409.1 338.0 2415.0C336.2 2420.9 335.1 2426.7 334.5 2429.0L367.0 2446.0C367.0 2441.7 366.9 2428.8 367.0 2420.0C367.1 2411.2 366.4 2403.1 367.5 2393.3C368.6 2383.5 370.2 2372.0 373.9 2361.4C377.6 2350.8 384.8 2340.1 389.8 2329.5C394.9 2318.9 400.5 2308.2 404.2 2297.6C407.9 2287.0 406.7 2278.6 412.0 2265.7C417.3 2252.8 430.0 2233.1 436.0 2220.0C442.0 2206.9 446.0 2192.5 448.0 2187.0Z" fill="#c44e52"/>
<path d="M364.3 2187.2C364.3 2314.5 736.4 2404.0 736.4 2531.3L770.6 2513.9C770.6 2393.0 386.6 2308.1 386.6 2187.2Z" fill="#c44e52"/>
<path d="M410.8 2187.2C410.8 2305.0 778.2 2387.7 778.2 2505.5L810.6 2488.1C810.6 2376.8 435.0 2298.5 435.0 2187.2Z" fill="#c44e52"/>
<path d="M1070.1 2187.2C1070.1 2314.5 736.4 2404.0 736.4 2531.3L770.6 2513.9C770.6 2393.0 1101.4 2308.1 1101.4 2187.2Z" fill="#c44e52"/>
<path d="M1097.1 2187.2C1097.1 2305.0 778.2 2387.7 778.2 2505.5L810.6 2488.1C810.6 2376.8 1132.6 2298.5 1132.6 2187.2Z" fill="#c44e52"/>
<g transform="translate(108.2,2065.6) rotate(0.00)"><rect x="0" y="-3.7" width="118.8" height="7.8" rx="3.9" fill="#fff" stroke="#222" stroke-width="1.3"/><rect x="1" y="-3.2" width="116.8" height="5" rx="2.5" fill="#e28bc6"/></g>
<text x="167.6" y="2045.2" font-family="Liberation Sans" font-weight="bold" font-size="11.5" fill="#e28bc6" text-anchor="middle">1</text>
<g transform="translate(239.5,2065.6) rotate(0.00)"><rect x="0" y="-3.7" width="97.0" height="7.8" rx="3.9" fill="#fff" stroke="#222" stroke-width="1.3"/><rect x="1" y="-3.2" width="95.0" height="5" rx="2.5" fill="#e28bc6"/></g>
<text x="288.0" y="2045.2" font-family="Liberation Sans" font-weight="bold" font-size="11.5" fill="#e28bc6" text-anchor="middle">2</text>
<g transform="translate(349.0,2065.6) rotate(0.00)"><rect x="0" y="-3.7" width="93.0" height="7.8" rx="3.9" fill="#fff" stroke="#222" stroke-width="1.3"/><rect x="1" y="-3.2" width="91.0" height="5" rx="2.5" fill="#e28bc6"/></g>
<text x="395.5" y="2045.2" font-family="Liberation Sans" font-weight="bold" font-size="11.5" fill="#e28bc6" text-anchor="middle">3</text>
<g transform="translate(454.6,2065.6) rotate(0.00)"><rect x="0" y="-3.7" width="84.7" height="7.8" rx="3.9" fill="#fff" stroke="#222" stroke-width="1.3"/><rect x="1" y="-3.2" width="82.7" height="5" rx="2.5" fill="#e28bc6"/></g>
<text x="496.9" y="2045.2" font-family="Liberation Sans" font-weight="bold" font-size="11.5" fill="#e28bc6" text-anchor="middle">5</text>
<g transform="translate(551.7,2065.6) rotate(0.00)"><rect x="0" y="-3.7" width="93.3" height="7.8" rx="3.9" fill="#fff" stroke="#222" stroke-width="1.3"/><rect x="1" y="-3.2" width="91.3" height="5" rx="2.5" fill="#e28bc6"/></g>
<text x="598.4" y="2045.2" font-family="Liberation Sans" font-weight="bold" font-size="11.5" fill="#e28bc6" text-anchor="middle">7</text>
<g transform="translate(658.3,2065.6) rotate(0.00)"><rect x="0" y="-3.7" width="89.7" height="7.8" rx="3.9" fill="#fff" stroke="#222" stroke-width="1.3"/><rect x="1" y="-3.2" width="87.7" height="5" rx="2.5" fill="#e28bc6"/></g>
<text x="703.1" y="2045.2" font-family="Liberation Sans" font-weight="bold" font-size="11.5" fill="#e28bc6" text-anchor="middle">4</text>
<g transform="translate(761.2,2065.6) rotate(0.00)"><rect x="0" y="-3.7" width="93.8" height="7.8" rx="3.9" fill="#fff" stroke="#222" stroke-width="1.3"/><rect x="1" y="-3.2" width="91.8" height="5" rx="2.5" fill="#e28bc6"/></g>
<text x="808.1" y="2045.2" font-family="Liberation Sans" font-weight="bold" font-size="11.5" fill="#e28bc6" text-anchor="middle">6</text>
<g transform="translate(867.6,2065.6) rotate(0.00)"><rect x="0" y="-3.7" width="83.0" height="7.8" rx="3.9" fill="#fff" stroke="#222" stroke-width="1.3"/><rect x="1" y="-3.2" width="81.0" height="5" rx="2.5" fill="#e28bc6"/></g>
<text x="909.1" y="2045.2" font-family="Liberation Sans" font-weight="bold" font-size="11.5" fill="#e28bc6" text-anchor="middle">9</text>
<g transform="translate(963.6,2065.6) rotate(0.00)"><rect x="0" y="-3.7" width="84.6" height="7.8" rx="3.9" fill="#fff" stroke="#222" stroke-width="1.3"/><rect x="1" y="-3.2" width="82.6" height="5" rx="2.5" fill="#e28bc6"/></g>
<text x="1005.9" y="2045.2" font-family="Liberation Sans" font-weight="bold" font-size="11.5" fill="#e28bc6" text-anchor="middle">8</text>
<g transform="translate(1061.0,2065.6) rotate(0.00)"><rect x="0" y="-3.7" width="71.6" height="7.8" rx="3.9" fill="#fff" stroke="#222" stroke-width="1.3"/><rect x="1" y="-3.2" width="69.6" height="5" rx="2.5" fill="#e28bc6"/></g>
<text x="1096.8" y="2045.2" font-family="Liberation Sans" font-weight="bold" font-size="11.5" fill="#e28bc6" text-anchor="middle">10</text>
<g transform="translate(108.2,2185.2) rotate(0.00)"><rect x="0" y="-3.7" width="121.5" height="7.8" rx="3.9" fill="#fff" stroke="#222" stroke-width="1.3"/><rect x="1" y="-3.2" width="119.5" height="5" rx="2.5" fill="#f4906a"/></g>
<circle cx="168.9" cy="2161.3" r="13" fill="#fff"/>
<text x="168.9" y="2165.5" font-family="Liberation Sans" font-weight="bold" font-size="11.5" fill="#f4906a" text-anchor="middle">1</text>
<g transform="translate(242.3,2185.2) rotate(0.00)"><rect x="0" y="-3.7" width="100.2" height="7.8" rx="3.9" fill="#fff" stroke="#222" stroke-width="1.3"/><rect x="1" y="-3.2" width="98.2" height="5" rx="2.5" fill="#f4906a"/></g>
<circle cx="292.4" cy="2161.3" r="13" fill="#fff"/>
<text x="292.4" y="2165.5" font-family="Liberation Sans" font-weight="bold" font-size="11.5" fill="#f4906a" text-anchor="middle">2</text>
<g transform="translate(355.0,2185.2) rotate(0.00)"><rect x="0" y="-3.7" width="93.0" height="7.8" rx="3.9" fill="#fff" stroke="#222" stroke-width="1.3"/><rect x="1" y="-3.2" width="91.0" height="5" rx="2.5" fill="#f4906a"/></g>
<circle cx="401.5" cy="2161.3" r="13" fill="#fff"/>
<text x="401.5" y="2165.5" font-family="Liberation Sans" font-weight="bold" font-size="11.5" fill="#f4906a" text-anchor="middle">3</text>
<g transform="translate(460.0,2185.2) rotate(0.00)"><rect x="0" y="-3.7" width="90.0" height="7.8" rx="3.9" fill="#fff" stroke="#222" stroke-width="1.3"/><rect x="1" y="-3.2" width="88.0" height="5" rx="2.5" fill="#f4906a"/></g>
<circle cx="505.0" cy="2161.3" r="13" fill="#fff"/>
<text x="505.0" y="2165.5" font-family="Liberation Sans" font-weight="bold" font-size="11.5" fill="#f4906a" text-anchor="middle">4</text>
<g transform="translate(562.3,2185.2) rotate(0.00)"><rect x="0" y="-3.7" width="94.7" height="7.8" rx="3.9" fill="#fff" stroke="#222" stroke-width="1.3"/><rect x="1" y="-3.2" width="92.7" height="5" rx="2.5" fill="#f4906a"/></g>
<circle cx="609.6" cy="2161.3" r="13" fill="#fff"/>
<text x="609.6" y="2165.5" font-family="Liberation Sans" font-weight="bold" font-size="11.5" fill="#f4906a" text-anchor="middle">5</text>
<g transform="translate(669.6,2185.2) rotate(0.00)"><rect x="0" y="-3.7" width="83.2" height="7.8" rx="3.9" fill="#fff" stroke="#222" stroke-width="1.3"/><rect x="1" y="-3.2" width="81.2" height="5" rx="2.5" fill="#f4906a"/></g>
<circle cx="711.2" cy="2161.3" r="13" fill="#fff"/>
<text x="711.2" y="2165.5" font-family="Liberation Sans" font-weight="bold" font-size="11.5" fill="#f4906a" text-anchor="middle">6</text>
<g transform="translate(765.5,2185.2) rotate(0.00)"><rect x="0" y="-3.7" width="93.9" height="7.8" rx="3.9" fill="#fff" stroke="#222" stroke-width="1.3"/><rect x="1" y="-3.2" width="91.9" height="5" rx="2.5" fill="#f4906a"/></g>
<circle cx="812.5" cy="2161.3" r="13" fill="#fff"/>
<text x="812.5" y="2165.5" font-family="Liberation Sans" font-weight="bold" font-size="11.5" fill="#f4906a" text-anchor="middle">7</text>
<g transform="translate(872.2,2185.2) rotate(0.00)"><rect x="0" y="-3.7" width="79.8" height="7.8" rx="3.9" fill="#fff" stroke="#222" stroke-width="1.3"/><rect x="1" y="-3.2" width="77.8" height="5" rx="2.5" fill="#f4906a"/></g>
<circle cx="912.1" cy="2161.3" r="13" fill="#fff"/>
<text x="912.1" y="2165.5" font-family="Liberation Sans" font-weight="bold" font-size="11.5" fill="#f4906a" text-anchor="middle">8</text>
<g transform="translate(964.6,2185.2) rotate(0.00)"><rect x="0" y="-3.7" width="83.8" height="7.8" rx="3.9" fill="#fff" stroke="#222" stroke-width="1.3"/><rect x="1" y="-3.2" width="81.8" height="5" rx="2.5" fill="#f4906a"/></g>
<circle cx="1006.5" cy="2161.3" r="13" fill="#fff"/>
<text x="1006.5" y="2165.5" font-family="Liberation Sans" font-weight="bold" font-size="11.5" fill="#f4906a" text-anchor="middle">9</text>
<g transform="translate(1061.6,2185.2) rotate(0.00)"><rect x="0" y="-3.7" width="71.0" height="7.8" rx="3.9" fill="#fff" stroke="#222" stroke-width="1.3"/><rect x="1" y="-3.2" width="69.0" height="5" rx="2.5" fill="#f4906a"/></g>
<circle cx="1097.1" cy="2161.3" r="13" fill="#fff"/>
<text x="1097.1" y="2165.5" font-family="Liberation Sans" font-weight="bold" font-size="11.5" fill="#f4906a" text-anchor="middle">10</text>
<g transform="translate(192.2,2339.2) rotate(29.60)"><rect x="0" y="-3.7" width="54.9" height="7.8" rx="3.9" fill="#fff" stroke="#222" stroke-width="1.3"/><rect x="1" y="-3.2" width="52.9" height="5" rx="2.5" fill="#8e9fd3"/></g>
<text x="188.8" y="2373.7" font-family="Liberation Sans" font-weight="bold" font-size="11.5" fill="#8e9fd3" text-anchor="middle">3</text>
<g transform="translate(248.0,2374.0) rotate(29.80)"><rect x="0" y="-3.7" width="42.1" height="7.8" rx="3.9" fill="#fff" stroke="#222" stroke-width="1.3"/><rect x="1" y="-3.2" width="40.1" height="5" rx="2.5" fill="#8e9fd3"/></g>
<text x="239.2" y="2405.0" font-family="Liberation Sans" font-weight="bold" font-size="11.5" fill="#8e9fd3" text-anchor="middle">5</text>
<g transform="translate(292.5,2402.9) rotate(27.68)"><rect x="0" y="-3.7" width="39.0" height="7.8" rx="3.9" fill="#fff" stroke="#222" stroke-width="1.3"/><rect x="1" y="-3.2" width="37.0" height="5" rx="2.5" fill="#8e9fd3"/></g>
<text x="282.7" y="2432.2" font-family="Liberation Sans" font-weight="bold" font-size="11.5" fill="#8e9fd3" text-anchor="middle">4</text>
<g transform="translate(333.9,2429.0) rotate(26.71)"><rect x="0" y="-3.7" width="36.3" height="7.8" rx="3.9" fill="#fff" stroke="#222" stroke-width="1.3"/><rect x="1" y="-3.2" width="34.3" height="5" rx="2.5" fill="#8e9fd3"/></g>
<text x="322.8" y="2457.2" font-family="Liberation Sans" font-weight="bold" font-size="11.5" fill="#8e9fd3" text-anchor="middle">10</text>
<g transform="translate(374.0,2452.3) rotate(29.33)"><rect x="0" y="-3.7" width="39.0" height="7.8" rx="3.9" fill="#fff" stroke="#222" stroke-width="1.3"/><rect x="1" y="-3.2" width="37.0" height="5" rx="2.5" fill="#8e9fd3"/></g>
<text x="363.5" y="2482.6" font-family="Liberation Sans" font-weight="bold" font-size="11.5" fill="#8e9fd3" text-anchor="middle">1</text>
<g transform="translate(415.7,2478.4) rotate(31.17)"><rect x="0" y="-3.7" width="39.0" height="7.8" rx="3.9" fill="#fff" stroke="#222" stroke-width="1.3"/><rect x="1" y="-3.2" width="37.0" height="5" rx="2.5" fill="#8e9fd3"/></g>
<text x="405.3" y="2508.7" font-family="Liberation Sans" font-weight="bold" font-size="11.5" fill="#8e9fd3" text-anchor="middle">9</text>
<g transform="translate(457.1,2504.5) rotate(28.48)"><rect x="0" y="-3.7" width="40.0" height="7.8" rx="3.9" fill="#fff" stroke="#222" stroke-width="1.3"/><rect x="1" y="-3.2" width="38.0" height="5" rx="2.5" fill="#8e9fd3"/></g>
<text x="447" y="2534.7999999999997" font-family="Liberation Sans" font-weight="bold" font-size="11.5" fill="#8e9fd3" text-anchor="middle">6</text>
<g transform="translate(499.2,2530.6) rotate(29.10)"><rect x="0" y="-3.7" width="34.3" height="7.8" rx="3.9" fill="#fff" stroke="#222" stroke-width="1.3"/><rect x="1" y="-3.2" width="32.3" height="5" rx="2.5" fill="#8e9fd3"/></g>
<text x="486.7" y="2559.8999999999996" font-family="Liberation Sans" font-weight="bold" font-size="11.5" fill="#8e9fd3" text-anchor="middle">2</text>
<g transform="translate(536.1,2554.3) rotate(28.43)"><rect x="0" y="-3.7" width="35.7" height="7.8" rx="3.9" fill="#fff" stroke="#222" stroke-width="1.3"/><rect x="1" y="-3.2" width="33.7" height="5" rx="2.5" fill="#8e9fd3"/></g>
<text x="524.6" y="2582.7999999999997" font-family="Liberation Sans" font-weight="bold" font-size="11.5" fill="#8e9fd3" text-anchor="middle">8</text>
<g transform="translate(574.4,2578.3) rotate(28.04)"><rect x="0" y="-3.7" width="29.6" height="7.8" rx="3.9" fill="#fff" stroke="#222" stroke-width="1.3"/><rect x="1" y="-3.2" width="27.6" height="5" rx="2.5" fill="#8e9fd3"/></g>
<text x="560.5" y="2605.7999999999997" font-family="Liberation Sans" font-weight="bold" font-size="11.5" fill="#8e9fd3" text-anchor="middle">7</text>
<g transform="translate(640.0,2592.2) rotate(-29.49)"><rect x="0" y="-3.7" width="50.8" height="7.8" rx="3.9" fill="#fff" stroke="#222" stroke-width="1.3"/><rect x="1" y="-3.2" width="48.8" height="5" rx="2.5" fill="#6cc5a3"/></g>
<text x="689.5" y="2600.2" font-family="Liberation Sans" font-weight="bold" font-size="11.5" fill="#6cc5a3" text-anchor="middle">3</text>
<g transform="translate(691.5,2559.1) rotate(-27.52)"><rect x="0" y="-3.7" width="42.8" height="7.8" rx="3.9" fill="#fff" stroke="#222" stroke-width="1.3"/><rect x="1" y="-3.2" width="40.8" height="5" rx="2.5" fill="#6cc5a3"/></g>
<text x="737.5" y="2570.2999999999997" font-family="Liberation Sans" font-weight="bold" font-size="11.5" fill="#6cc5a3" text-anchor="middle">5</text>
<g transform="translate(736.4,2531.3) rotate(-26.97)"><rect x="0" y="-3.7" width="38.4" height="7.8" rx="3.9" fill="#fff" stroke="#222" stroke-width="1.3"/><rect x="1" y="-3.2" width="36.4" height="5" rx="2.5" fill="#6cc5a3"/></g>
<text x="780.3" y="2543.2" font-family="Liberation Sans" font-weight="bold" font-size="11.5" fill="#6cc5a3" text-anchor="middle">4</text>
<g transform="translate(778.2,2505.5) rotate(-28.24)"><rect x="0" y="-3.7" width="36.8" height="7.8" rx="3.9" fill="#fff" stroke="#222" stroke-width="1.3"/><rect x="1" y="-3.2" width="34.8" height="5" rx="2.5" fill="#6cc5a3"/></g>
<text x="821.7" y="2517.3999999999996" font-family="Liberation Sans" font-weight="bold" font-size="11.5" fill="#6cc5a3" text-anchor="middle">10</text>
<g transform="translate(818.6,2480.1) rotate(-27.51)"><rect x="0" y="-3.7" width="35.3" height="7.8" rx="3.9" fill="#fff" stroke="#222" stroke-width="1.3"/><rect x="1" y="-3.2" width="33.3" height="5" rx="2.5" fill="#6cc5a3"/></g>
<text x="861.7" y="2492.2999999999997" font-family="Liberation Sans" font-weight="bold" font-size="11.5" fill="#6cc5a3" text-anchor="middle">1</text>
<g transform="translate(857.6,2455.8) rotate(-27.75)"><rect x="0" y="-3.7" width="41.2" height="7.8" rx="3.9" fill="#fff" stroke="#222" stroke-width="1.3"/><rect x="1" y="-3.2" width="39.2" height="5" rx="2.5" fill="#6cc5a3"/></g>
<text x="902.5" y="2466.6" font-family="Liberation Sans" font-weight="bold" font-size="11.5" fill="#6cc5a3" text-anchor="middle">9</text>
<g transform="translate(901.1,2428.6) rotate(-27.48)"><rect x="0" y="-3.7" width="39.2" height="7.8" rx="3.9" fill="#fff" stroke="#222" stroke-width="1.3"/><rect x="1" y="-3.2" width="37.2" height="5" rx="2.5" fill="#6cc5a3"/></g>
<text x="945.3" y="2439.7999999999997" font-family="Liberation Sans" font-weight="bold" font-size="11.5" fill="#6cc5a3" text-anchor="middle">6</text>
<g transform="translate(942.8,2402.5) rotate(-26.94)"><rect x="0" y="-3.7" width="34.4" height="7.8" rx="3.9" fill="#fff" stroke="#222" stroke-width="1.3"/><rect x="1" y="-3.2" width="32.4" height="5" rx="2.5" fill="#6cc5a3"/></g>
<text x="985" y="2415.1" font-family="Liberation Sans" font-weight="bold" font-size="11.5" fill="#6cc5a3" text-anchor="middle">2</text>
<g transform="translate(980.4,2379.2) rotate(-27.39)"><rect x="0" y="-3.7" width="34.1" height="7.8" rx="3.9" fill="#fff" stroke="#222" stroke-width="1.3"/><rect x="1" y="-3.2" width="32.1" height="5" rx="2.5" fill="#6cc5a3"/></g>
<text x="1021.9" y="2391.7999999999997" font-family="Liberation Sans" font-weight="bold" font-size="11.5" fill="#6cc5a3" text-anchor="middle">8</text>
<g transform="translate(1017.7,2355.5) rotate(-28.51)"><rect x="0" y="-3.7" width="35.6" height="7.8" rx="3.9" fill="#fff" stroke="#222" stroke-width="1.3"/><rect x="1" y="-3.2" width="33.6" height="5" rx="2.5" fill="#6cc5a3"/></g>
<text x="1060.1" y="2368.1" font-family="Liberation Sans" font-weight="bold" font-size="11.5" fill="#6cc5a3" text-anchor="middle">7</text>
<text x="7" y="2069.6" font-family="Liberation Sans" font-style="italic" font-size="15" fill="#e28bc6" textLength="90.5" lengthAdjust="spacingAndGlyphs">S.angustifolia</text>
<text x="9.4" y="2189" font-family="Liberation Sans" font-style="italic" font-size="15" fill="#f4906a" textLength="84" lengthAdjust="spacingAndGlyphs">S.guianensis</text>
<text x="79.4" y="2336" font-family="Liberation Sans" font-style="italic" font-size="15" fill="#8e9fd3" textLength="86" lengthAdjust="spacingAndGlyphs">A.duranensis</text>
<text x="1086.2" y="2341" font-family="Liberation Sans" font-style="italic" font-size="15" fill="#6cc5a3" textLength="67.2" lengthAdjust="spacingAndGlyphs">A.ipaensis</text>
<text x="1199" y="1997" font-family="Liberation Sans" font-size="41" fill="#000" textLength="50" lengthAdjust="spacingAndGlyphs">(e)</text>
<text x="1817" y="2048" font-family="Liberation Sans" font-weight="bold" font-size="21.5" text-anchor="middle" textLength="281" lengthAdjust="spacingAndGlyphs">GO/KEGG Enriched Terms</text>
<rect x="2080.8" y="2073" width="32.6" height="267" fill="#f5f5f5"/>
<rect x="2080.8" y="2348.8" width="32.6" height="267" fill="#f5f5f5"/>
<text transform="translate(2087.5,2110) rotate(90)" font-family="Liberation Sans" font-weight="bold" font-size="20" textLength="192" lengthAdjust="spacingAndGlyphs">GO Biological Terms</text>
<text transform="translate(2087.5,2406) rotate(90)" font-family="Liberation Sans" font-weight="bold" font-size="20" textLength="153" lengthAdjust="spacingAndGlyphs">KEGG Pathways</text>
<path d="M1553.5 2073V2340M1553.5 2348.8V2615.5" stroke="#e6e6e6" stroke-width="1.6"/>
<path d="M1649.0 2073V2340M1649.0 2348.8V2615.5" stroke="#e6e6e6" stroke-width="1.6"/>
<path d="M1744.5 2073V2340M1744.5 2348.8V2615.5" stroke="#e6e6e6" stroke-width="1.6"/>
<path d="M1840.0 2073V2340M1840.0 2348.8V2615.5" stroke="#e6e6e6" stroke-width="1.6"/>
<path d="M1935.5 2073V2340M1935.5 2348.8V2615.5" stroke="#e6e6e6" stroke-width="1.6"/>
<path d="M2031.0 2073V2340M2031.0 2348.8V2615.5" stroke="#e6e6e6" stroke-width="1.6"/>
<rect x="1553.5" y="2079.3" width="458.4" height="18.2" fill="#2e8b57"/>
<text x="2015.9" y="2093.4" font-family="Liberation Sans" font-weight="bold" font-size="14">48</text>
<text x="1534.4" y="2086.2" font-family="Liberation Sans" font-size="14.6" text-anchor="end">Oxidoreductase Activity, Acting On The Ch-Oh Group</text>
<text x="1534.4" y="2101.3" font-family="Liberation Sans" font-size="14.6" text-anchor="end">Of Donors, Nad Or Nadp As Acceptor</text>
<rect x="1553.5" y="2105.4" width="448.9" height="18.2" fill="#2e8b57"/>
<text x="2006.3" y="2119.5" font-family="Liberation Sans" font-weight="bold" font-size="14">47</text>
<text x="1534.4" y="2112.3" font-family="Liberation Sans" font-size="14.6" text-anchor="end">Hydrolase Activity, Hydrolyzing N-Glycosyl</text>
<text x="1534.4" y="2127.4" font-family="Liberation Sans" font-size="14.6" text-anchor="end">Compounds</text>
<rect x="1553.5" y="2131.6" width="362.9" height="18.2" fill="#2e8b57"/>
<text x="1920.4" y="2145.7" font-family="Liberation Sans" font-weight="bold" font-size="14">38</text>
<text x="1534.4" y="2145.7" font-family="Liberation Sans" font-size="14.6" text-anchor="end">Flavonoid Biosynthetic Process</text>
<rect x="1553.5" y="2157.7" width="334.2" height="18.2" fill="#2e8b57"/>
<text x="1891.8" y="2171.8" font-family="Liberation Sans" font-weight="bold" font-size="14">35</text>
<text x="1534.4" y="2171.8" font-family="Liberation Sans" font-size="14.6" text-anchor="end">Positive Regulation Of Cell Death</text>
<rect x="1553.5" y="2183.8" width="334.2" height="18.2" fill="#2e8b57"/>
<text x="1891.8" y="2197.9" font-family="Liberation Sans" font-weight="bold" font-size="14">35</text>
<text x="1534.4" y="2197.9" font-family="Liberation Sans" font-size="14.6" text-anchor="end">Mitochondrial Rna Metabolic Process</text>
<rect x="1553.5" y="2210.0" width="324.7" height="18.2" fill="#2e8b57"/>
<text x="1882.2" y="2224.1" font-family="Liberation Sans" font-weight="bold" font-size="14">34</text>
<text x="1534.4" y="2224.1" font-family="Liberation Sans" font-size="14.6" text-anchor="end">Proton Transmembrane Transport</text>
<rect x="1553.5" y="2236.1" width="305.6" height="18.2" fill="#2e8b57"/>
<text x="1863.1" y="2250.2" font-family="Liberation Sans" font-weight="bold" font-size="14">32</text>
<text x="1534.4" y="2250.2" font-family="Liberation Sans" font-size="14.6" text-anchor="end">Proton Transmembrane Transporter Activity</text>
<rect x="1553.5" y="2262.2" width="296.1" height="18.2" fill="#2e8b57"/>
<text x="1853.5" y="2276.3" font-family="Liberation Sans" font-weight="bold" font-size="14">31</text>
<text x="1534.4" y="2276.3" font-family="Liberation Sans" font-size="14.6" text-anchor="end">Photosynthesis</text>
<rect x="1553.5" y="2288.3" width="286.5" height="18.2" fill="#2e8b57"/>
<text x="1844.0" y="2302.4" font-family="Liberation Sans" font-weight="bold" font-size="14">30</text>
<text x="1534.4" y="2302.4" font-family="Liberation Sans" font-size="14.6" text-anchor="end">Mitochondrial Inner Membrane</text>
<rect x="1553.5" y="2314.5" width="277.0" height="18.2" fill="#2e8b57"/>
<text x="1834.5" y="2328.6" font-family="Liberation Sans" font-weight="bold" font-size="14">29</text>
<text x="1534.4" y="2328.6" font-family="Liberation Sans" font-size="14.6" text-anchor="end">Mitochondrial Mrna Modification</text>
<rect x="1553.5" y="2355.9" width="257.9" height="18.2" fill="#8b0000"/>
<text x="1815.3" y="2370.0" font-family="Liberation Sans" font-weight="bold" font-size="14">27</text>
<text x="1534.4" y="2370.0" font-family="Liberation Sans" font-size="14.6" text-anchor="end">Phenylpropanoid Biosynthesis</text>
<rect x="1553.5" y="2382.1" width="200.6" height="18.2" fill="#8b0000"/>
<text x="1758.0" y="2396.2" font-family="Liberation Sans" font-weight="bold" font-size="14">21</text>
<text x="1534.4" y="2396.2" font-family="Liberation Sans" font-size="14.6" text-anchor="end">Purine Metabolism</text>
<rect x="1553.5" y="2408.3" width="171.9" height="18.2" fill="#8b0000"/>
<text x="1729.4" y="2422.4" font-family="Liberation Sans" font-weight="bold" font-size="14">18</text>
<text x="1534.4" y="2422.4" font-family="Liberation Sans" font-size="14.6" text-anchor="end">Oxidative Phosphorylation</text>
<rect x="1553.5" y="2434.5" width="162.4" height="18.2" fill="#8b0000"/>
<text x="1719.8" y="2448.6" font-family="Liberation Sans" font-weight="bold" font-size="14">17</text>
<text x="1534.4" y="2448.6" font-family="Liberation Sans" font-size="14.6" text-anchor="end">Ubiquitin Mediated Proteolysis</text>
<rect x="1553.5" y="2460.7" width="152.8" height="18.2" fill="#8b0000"/>
<text x="1710.3" y="2474.8" font-family="Liberation Sans" font-weight="bold" font-size="14">16</text>
<text x="1534.4" y="2474.8" font-family="Liberation Sans" font-size="14.6" text-anchor="end">Pyruvate Metabolism</text>
<rect x="1553.5" y="2486.9" width="152.8" height="18.2" fill="#8b0000"/>
<text x="1710.3" y="2501.0" font-family="Liberation Sans" font-weight="bold" font-size="14">16</text>
<text x="1534.4" y="2501.0" font-family="Liberation Sans" font-size="14.6" text-anchor="end">Flavonoid Biosynthesis</text>
<rect x="1553.5" y="2513.1" width="143.2" height="18.2" fill="#8b0000"/>
<text x="1700.8" y="2527.2" font-family="Liberation Sans" font-weight="bold" font-size="14">15</text>
<text x="1534.4" y="2527.2" font-family="Liberation Sans" font-size="14.6" text-anchor="end">Peroxisome</text>
<rect x="1553.5" y="2539.3" width="143.2" height="18.2" fill="#8b0000"/>
<text x="1700.8" y="2553.4" font-family="Liberation Sans" font-weight="bold" font-size="14">15</text>
<text x="1534.4" y="2553.4" font-family="Liberation Sans" font-size="14.6" text-anchor="end">Cyanoamino Acid Metabolism</text>
<rect x="1553.5" y="2565.5" width="114.6" height="18.2" fill="#8b0000"/>
<text x="1672.1" y="2579.6" font-family="Liberation Sans" font-weight="bold" font-size="14">12</text>
<text x="1534.4" y="2579.6" font-family="Liberation Sans" font-size="14.6" text-anchor="end">Terpenoid Backbone Biosynthesis</text>
<rect x="1553.5" y="2591.7" width="133.7" height="18.2" fill="#8b0000"/>
<text x="1691.2" y="2605.8" font-family="Liberation Sans" font-weight="bold" font-size="14">14</text>
<text x="1534.4" y="2605.8" font-family="Liberation Sans" font-size="14.6" text-anchor="end">Photosynthesis</text>
<path d="M1553 2615.5H2081" stroke="#333" stroke-width="1.6"/>
<path d="M1553.5 2615.5V2620" stroke="#333" stroke-width="1.4"/>
<text x="1553.5" y="2636" font-family="Liberation Sans" font-size="16.2" fill="#333" text-anchor="middle">0</text>
<path d="M1649.0 2615.5V2620" stroke="#333" stroke-width="1.4"/>
<text x="1649.0" y="2636" font-family="Liberation Sans" font-size="16.2" fill="#333" text-anchor="middle">10</text>
<path d="M1744.5 2615.5V2620" stroke="#333" stroke-width="1.4"/>
<text x="1744.5" y="2636" font-family="Liberation Sans" font-size="16.2" fill="#333" text-anchor="middle">20</text>
<path d="M1840.0 2615.5V2620" stroke="#333" stroke-width="1.4"/>
<text x="1840.0" y="2636" font-family="Liberation Sans" font-size="16.2" fill="#333" text-anchor="middle">30</text>
<path d="M1935.5 2615.5V2620" stroke="#333" stroke-width="1.4"/>
<text x="1935.5" y="2636" font-family="Liberation Sans" font-size="16.2" fill="#333" text-anchor="middle">40</text>
<path d="M2031.0 2615.5V2620" stroke="#333" stroke-width="1.4"/>
<text x="2031.0" y="2636" font-family="Liberation Sans" font-size="16.2" fill="#333" text-anchor="middle">50</text>
<text x="1817" y="2657" font-family="Liberation Sans" font-size="18.5" fill="#222" text-anchor="middle">Gene Count</text>
</svg></body></html>
